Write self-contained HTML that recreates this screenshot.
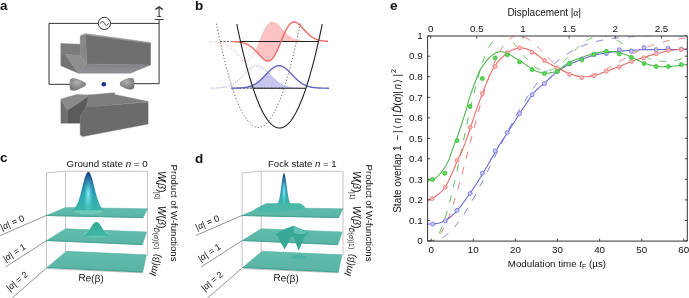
<!DOCTYPE html>
<html><head><meta charset="utf-8"><style>html,body{margin:0;padding:0;background:#fff;width:689px;height:298px;overflow:hidden}svg{display:block;will-change:transform}</style></head><body>
<svg width="689" height="298" viewBox="0 0 689 298">
<text x="0.0" y="9.8" font-family='"Liberation Sans", sans-serif' font-size="13.5" font-weight="bold" fill="#111">a</text>
<text x="195.0" y="9.6" font-family='"Liberation Sans", sans-serif' font-size="13.5" font-weight="bold" fill="#111">b</text>
<text x="390.0" y="9.5" font-family='"Liberation Sans", sans-serif' font-size="13.5" font-weight="bold" fill="#111">e</text>
<text x="0.0" y="162.3" font-family='"Liberation Sans", sans-serif' font-size="13.5" font-weight="bold" fill="#111">c</text>
<text x="195.0" y="162.6" font-family='"Liberation Sans", sans-serif' font-size="13.5" font-weight="bold" fill="#111">d</text>
<defs><linearGradient id="aBot" x1="0" y1="0" x2="0" y2="1"><stop offset="0" stop-color="#828288"/><stop offset="1" stop-color="#919197"/></linearGradient><radialGradient id="cone" cx="0.45" cy="0.35" r="0.7"><stop offset="0" stop-color="#b0b0b0"/><stop offset="1" stop-color="#6e6e6e"/></radialGradient></defs>
<path d="M70,84.3 H49 V23.4 H159.1 V83.7 H134" fill="none" stroke="#333" stroke-width="1"/>
<circle cx="104.4" cy="23.4" r="6.1" fill="#fff" stroke="#333" stroke-width="1"/>
<path d="M100.3,23.6 C101.4,20.6 103.2,20.8 104.4,23.4 C105.6,26.0 107.4,26.2 108.5,23.2" fill="none" stroke="#333" stroke-width="0.9"/>
<path d="M154.7,19.5 H163.7 M157.3,16.5 H160.9 M159.1,23.4 V19.5 M159.1,16.5 V8" fill="none" stroke="#3a3a3a" stroke-width="1.05"/><path d="M154.8,9.0 L159.1,5.9 L163.4,9.0 L162.4,9.9 L159.1,8.0 L155.8,9.9 Z" fill="#3a3a3a"/>
<polygon points="85.5,34.3 150.6,43.1 150.6,64.9 86.9,64.0" fill="#6e6e6e" stroke="#6e6e6e" stroke-width="0.4" stroke-linejoin="round" />
<polygon points="80.2,36.0 85.5,34.3 86.9,64.0 80.2,55.8" fill="#878787" stroke="#878787" stroke-width="0.4" stroke-linejoin="round" />
<polygon points="80.2,36.0 85.5,33.6 150.6,42.4 150.6,43.4 85.5,34.8" fill="#9a9a9a" stroke="#9a9a9a" stroke-width="0.4" stroke-linejoin="round" />
<polygon points="60.8,43.4 80.2,44.2 80.2,55.8 64.9,54.3 60.8,55.0" fill="#7c7c7c" stroke="#7c7c7c" stroke-width="0.4" stroke-linejoin="round" />
<polygon points="60.8,55.0 64.9,54.3 78.5,73.3 60.8,65.7" fill="#747474" stroke="#747474" stroke-width="0.4" stroke-linejoin="round" />
<polygon points="64.9,54.3 80.2,55.8 86.9,64.0 82.0,69.0 78.5,73.3" fill="#8e8e8e" stroke="#8e8e8e" stroke-width="0.4" stroke-linejoin="round" />
<polygon points="86.9,64.0 150.6,64.9 130.5,73.3 78.5,73.3 82.0,69.0" fill="url(#aBot)" stroke="#86868c" stroke-width="0.4" stroke-linejoin="round" />
<polygon points="60.9,99.2 67.6,110.6 67.6,123.2 60.9,123.2" fill="#6f6f6f" stroke="#6f6f6f" stroke-width="0.4" stroke-linejoin="round" />
<polygon points="60.9,98.9 76.8,94.4 90.2,95.0 67.6,110.6" fill="#8a8a8a" stroke="#8a8a8a" stroke-width="0.4" stroke-linejoin="round" />
<polygon points="67.6,110.6 90.2,95.3 86.0,107.3 80.2,116.5 80.2,123.2 67.6,123.2" fill="#5b5b5b" stroke="#5b5b5b" stroke-width="0.4" stroke-linejoin="round" />
<polygon points="88.5,95.0 114.5,92.7 114.5,94.4 148.1,101.4 86.0,107.3" fill="#7e7e7e" stroke="#7e7e7e" stroke-width="0.4" stroke-linejoin="round" />
<polygon points="86.0,107.3 148.1,101.9 148.1,124.1 82.7,136.6 80.2,135.0 80.2,116.5" fill="#6b6b6b" stroke="#6b6b6b" stroke-width="0.4" stroke-linejoin="round" />
<path d="M70.2,79.4 C71.5,77.6 75,77.8 79,79.6 C83,81.4 86,82.6 86,84.3 C86,86 83,87.4 79,89.2 C75,91 71.5,91.1 70.2,89.4 C69.3,86.5 69.3,82.2 70.2,79.4 Z" fill="url(#cone)"/>
<path d="M133.8,79.0 C132.5,77.4 129,77.6 125,79.2 C121,80.8 119.8,82.2 119.8,83.8 C119.8,85.4 121,86.8 125,88.2 C129,89.8 132.5,89.8 133.8,88.3 C134.7,85.6 134.7,81.6 133.8,79.0 Z" fill="url(#cone)"/>
<circle cx="103.8" cy="84.3" r="2.3" fill="#24308a"/>
<path d="M216.30,23.50 L217.14,27.62 L217.98,31.65 L218.82,35.61 L219.66,39.47 L220.50,43.26 L221.34,46.96 L222.18,50.58 L223.02,54.12 L223.86,57.57 L224.70,60.94 L225.54,64.23 L226.38,67.43 L227.22,70.55 L228.06,73.59 L228.90,76.54 L229.74,79.41 L230.58,82.20 L231.42,84.90 L232.26,87.52 L233.10,90.06 L233.94,92.51 L234.78,94.89 L235.62,97.17 L236.46,99.38 L237.30,101.50 L238.14,103.54 L238.98,105.49 L239.82,107.37 L240.66,109.15 L241.50,110.86 L242.34,112.48 L243.18,114.02 L244.02,115.48 L244.86,116.85 L245.70,118.14 L246.54,119.35 L247.38,120.47 L248.22,121.51 L249.06,122.47 L249.90,123.34 L250.74,124.13 L251.58,124.84 L252.42,125.46 L253.26,126.00 L254.10,126.46 L254.94,126.83 L255.78,127.13 L256.62,127.33 L257.46,127.46 L258.30,127.50 L259.14,127.46 L259.98,127.33 L260.82,127.13 L261.66,126.83 L262.50,126.46 L263.34,126.00 L264.18,125.46 L265.02,124.84 L265.86,124.13 L266.70,123.34 L267.54,122.47 L268.38,121.51 L269.22,120.47 L270.06,119.35 L270.90,118.14 L271.74,116.85 L272.58,115.48 L273.42,114.02 L274.26,112.48 L275.10,110.86 L275.94,109.15 L276.78,107.37 L277.62,105.49 L278.46,103.54 L279.30,101.50 L280.14,99.38 L280.98,97.17 L281.82,94.89 L282.66,92.51 L283.50,90.06 L284.34,87.52 L285.18,84.90 L286.02,82.20 L286.86,79.41 L287.70,76.54 L288.54,73.59 L289.38,70.55 L290.22,67.43 L291.06,64.23 L291.90,60.94 L292.74,57.57 L293.58,54.12 L294.42,50.58 L295.26,46.96 L296.10,43.26 L296.94,39.47 L297.78,35.61 L298.62,31.65 L299.46,27.62 L300.30,23.50" fill="none" stroke="#666" stroke-width="1.0" stroke-dasharray="1.3,1.9"/>
<path d="M252.00,47.46 L252.25,47.66 L252.50,47.87 L252.75,48.09 L253.00,48.31 L253.25,48.53 L253.50,48.76 L253.75,48.99 L254.00,49.23 L254.25,49.46 L254.50,49.71 L254.75,49.95 L255.00,50.20 L255.25,50.45 L255.50,50.71 L255.75,50.40 L256.00,49.85 L256.25,49.29 L256.50,48.72 L256.75,48.15 L257.00,47.57 L257.25,46.98 L257.50,46.39 L257.75,45.79 L258.00,45.19 L258.25,44.58 L258.50,43.97 L258.75,43.35 L259.00,42.74 L259.25,42.12 L259.50,41.50 L259.75,40.88 L260.00,40.26 L260.25,39.65 L260.50,39.03 L260.75,38.42 L261.00,37.81 L261.25,37.21 L261.50,36.61 L261.75,36.02 L262.00,35.43 L262.25,34.85 L262.50,34.28 L262.75,33.71 L263.00,33.15 L263.25,32.60 L263.50,32.07 L263.75,31.54 L264.00,31.02 L264.25,30.51 L264.50,30.02 L264.75,29.53 L265.00,29.06 L265.25,28.60 L265.50,28.16 L265.75,27.73 L266.00,27.31 L266.25,26.91 L266.50,26.52 L266.75,26.15 L267.00,25.80 L267.25,25.45 L267.50,25.13 L267.75,24.82 L268.00,24.52 L268.25,24.25 L268.50,23.99 L268.75,23.74 L269.00,23.51 L269.25,23.30 L269.50,23.10 L269.75,22.92 L270.00,22.76 L270.25,22.61 L270.50,22.48 L270.75,22.37 L271.00,22.27 L271.25,22.19 L271.50,22.12 L271.75,22.07 L272.00,22.03 L272.25,22.01 L272.50,22.00 L272.75,22.01 L273.00,22.03 L273.25,22.06 L273.50,22.11 L273.75,22.17 L274.00,22.25 L274.25,22.34 L274.50,22.44 L274.75,22.55 L275.00,22.67 L275.25,22.80 L275.50,22.95 L275.75,23.10 L276.00,23.26 L276.25,23.44 L276.50,23.62 L276.75,23.81 L277.00,24.01 L277.25,24.22 L277.50,24.43 L277.75,24.65 L278.00,24.88 L278.25,25.11 L278.50,25.35 L278.75,25.59 L279.00,25.84 L279.25,26.10 L279.50,26.35 L279.75,26.61 L280.00,26.88 L280.25,27.14 L280.50,27.41 L280.75,27.68 L281.00,27.96 L281.25,28.23 L281.50,28.51 L281.75,28.78 L282.00,29.06 L282.25,29.33 L282.50,29.61 L282.75,29.88 L283.00,30.16 L283.25,30.43 L283.50,30.70 L283.75,30.97 L284.00,31.24 L284.25,31.51 L284.50,31.77 L284.75,32.03 L285.00,32.29 L285.25,32.55 L285.50,32.80 L285.75,33.05 L286.00,33.29 L286.25,33.54 L286.50,33.77 L286.75,34.01 L287.00,34.24 L287.25,34.47 L287.50,34.69 L287.75,34.91 L288.00,35.13 L288.25,35.34 L288.50,35.54 L288.75,35.74 L289.00,35.94 L289.25,36.14 L289.50,36.32 L289.75,36.51 L290.00,36.69 L290.25,36.86 L290.50,37.04 L290.75,37.20 L291.00,37.36 L291.25,37.52 L291.50,37.67 L291.75,37.82 L292.00,37.97 L292.25,38.11 L292.50,38.25 L292.75,38.38 L293.00,38.51 L293.25,38.63 L293.50,38.75 L293.75,38.87 L294.00,38.98 L294.25,39.09 L294.50,39.19 L294.75,39.29 L295.00,39.39 L295.25,39.48 L295.50,39.58 L295.75,39.66 L296.00,39.75 L296.25,39.83 L296.50,39.91 L296.75,39.98 L297.00,40.05 L297.25,40.12 L297.50,40.19 L297.75,40.25 L298.00,40.31 L298.25,40.37 L298.50,40.43 L298.75,40.48 L299.00,40.53 L299.25,40.58 L299.50,40.63 L299.75,40.68 L300.00,40.72 L300.25,40.76 L300.50,40.80 L300.75,40.84 L301.00,40.87 L301.25,40.91 L301.50,40.94 L301.75,40.97 L302.00,41.00 L302.25,41.03 L302.50,41.05 L302.75,41.08 L303.00,41.10 L303.25,41.12 L303.50,41.15 L303.75,41.17 L304.00,41.19 L304.25,41.20 L304.50,41.22 L304.75,41.24 L305.00,41.25 L305.25,41.27 L305.50,41.28 L305.75,41.30 L306.00,41.31 L306.25,41.32 L306.50,41.33 L306.75,41.34 L307.00,41.35 L307.25,41.36 L307.50,41.37 L307.75,41.38 L308.00,41.39 L308.00,41.50 L307.75,41.50 L307.50,41.50 L307.25,41.50 L307.00,41.50 L306.75,41.50 L306.50,41.50 L306.25,41.50 L306.00,41.50 L305.75,41.50 L305.50,41.50 L305.25,41.50 L305.00,41.50 L304.75,41.50 L304.50,41.50 L304.25,41.50 L304.00,41.50 L303.75,41.50 L303.50,41.50 L303.25,41.50 L303.00,41.50 L302.75,41.50 L302.50,41.50 L302.25,41.50 L302.00,41.50 L301.75,41.50 L301.50,41.50 L301.25,41.50 L301.00,41.50 L300.75,41.50 L300.50,41.50 L300.25,41.50 L300.00,41.50 L299.75,41.50 L299.50,41.50 L299.25,41.50 L299.00,41.50 L298.75,41.50 L298.50,41.50 L298.25,41.50 L298.00,41.50 L297.75,41.50 L297.50,41.50 L297.25,41.50 L297.00,41.50 L296.75,41.50 L296.50,41.50 L296.25,41.50 L296.00,41.50 L295.75,41.50 L295.50,41.50 L295.25,41.50 L295.00,41.50 L294.75,41.50 L294.50,41.50 L294.25,41.50 L294.00,41.50 L293.75,41.50 L293.50,41.50 L293.25,41.50 L293.00,41.50 L292.75,41.50 L292.50,41.50 L292.25,41.50 L292.00,41.50 L291.75,41.50 L291.50,41.50 L291.25,41.50 L291.00,41.50 L290.75,41.50 L290.50,41.50 L290.25,41.50 L290.00,41.50 L289.75,41.50 L289.50,41.50 L289.25,41.50 L289.00,41.50 L288.75,41.50 L288.50,41.50 L288.25,41.50 L288.00,41.50 L287.75,41.50 L287.50,41.50 L287.25,41.50 L287.00,41.50 L286.75,41.50 L286.50,41.50 L286.25,41.50 L286.00,41.50 L285.75,41.50 L285.50,41.50 L285.25,41.50 L285.00,41.50 L284.75,41.50 L284.50,41.50 L284.25,41.50 L284.00,41.50 L283.75,41.50 L283.50,41.50 L283.25,41.50 L283.00,41.50 L282.75,41.50 L282.50,41.50 L282.25,41.50 L282.00,41.50 L281.75,41.50 L281.50,41.50 L281.25,41.50 L281.00,41.50 L280.75,42.12 L280.50,42.74 L280.25,43.35 L280.00,43.97 L279.75,44.58 L279.50,45.19 L279.25,45.79 L279.00,46.39 L278.75,46.98 L278.50,47.57 L278.25,48.15 L278.00,48.72 L277.75,49.29 L277.50,49.85 L277.25,50.40 L277.00,50.93 L276.75,51.46 L276.50,51.98 L276.25,52.49 L276.00,52.98 L275.75,53.47 L275.50,53.94 L275.25,54.40 L275.00,54.84 L274.75,55.27 L274.50,55.69 L274.25,56.09 L274.00,56.48 L273.75,56.85 L273.50,57.20 L273.25,57.55 L273.00,57.87 L272.75,58.18 L272.50,58.48 L272.25,58.75 L272.00,59.01 L271.75,59.26 L271.50,59.49 L271.25,59.70 L271.00,59.90 L270.75,60.08 L270.50,60.24 L270.25,60.39 L270.00,60.52 L269.75,60.63 L269.50,60.73 L269.25,60.81 L269.00,60.88 L268.75,60.93 L268.50,60.97 L268.25,60.99 L268.00,61.00 L267.75,60.99 L267.50,60.97 L267.25,60.94 L267.00,60.89 L266.75,60.83 L266.50,60.75 L266.25,60.66 L266.00,60.56 L265.75,60.45 L265.50,60.33 L265.25,60.20 L265.00,60.05 L264.75,59.90 L264.50,59.74 L264.25,59.56 L264.00,59.38 L263.75,59.19 L263.50,58.99 L263.25,58.78 L263.00,58.57 L262.75,58.35 L262.50,58.12 L262.25,57.89 L262.00,57.65 L261.75,57.41 L261.50,57.16 L261.25,56.90 L261.00,56.65 L260.75,56.39 L260.50,56.12 L260.25,55.86 L260.00,55.59 L259.75,55.32 L259.50,55.04 L259.25,54.77 L259.00,54.49 L258.75,54.22 L258.50,53.94 L258.25,53.67 L258.00,53.39 L257.75,53.12 L257.50,52.84 L257.25,52.57 L257.00,52.30 L256.75,52.03 L256.50,51.76 L256.25,51.49 L256.00,51.23 L255.75,50.97 L255.50,50.71 L255.25,50.45 L255.00,50.20 L254.75,49.95 L254.50,49.71 L254.25,49.46 L254.00,49.23 L253.75,48.99 L253.50,48.76 L253.25,48.53 L253.00,48.31 L252.75,48.09 L252.50,47.87 L252.25,47.66 L252.00,47.46 Z" fill="#fbc3c3" stroke="none"/>
<path d="M231.00,88.20 L231.00,88.18 L231.50,88.17 L232.00,88.17 L232.50,88.16 L233.00,88.16 L233.50,88.15 L234.00,88.14 L234.50,88.14 L235.00,88.13 L235.50,88.12 L236.00,88.11 L236.50,88.09 L237.00,88.08 L237.50,88.06 L238.00,88.04 L238.50,88.02 L239.00,88.00 L239.50,87.98 L240.00,87.95 L240.50,87.92 L241.00,87.89 L241.50,87.85 L242.00,87.81 L242.50,87.76 L243.00,87.71 L243.50,87.66 L244.00,87.60 L244.50,87.53 L245.00,87.46 L245.50,87.39 L246.00,87.30 L246.50,87.21 L247.00,87.11 L247.50,87.01 L248.00,86.89 L248.50,86.76 L249.00,86.63 L249.50,86.49 L250.00,86.33 L250.50,86.17 L251.00,85.99 L251.50,85.80 L252.00,85.60 L252.50,85.38 L253.00,85.15 L253.50,84.91 L254.00,84.66 L254.50,84.39 L255.00,84.11 L255.50,83.81 L256.00,83.50 L256.50,83.17 L257.00,82.83 L257.50,82.47 L258.00,82.10 L258.50,81.71 L259.00,81.31 L259.50,80.90 L260.00,80.47 L260.50,80.03 L261.00,79.57 L261.50,79.11 L262.00,78.63 L262.50,78.15 L263.00,77.65 L263.50,77.15 L264.00,76.64 L264.50,76.12 L265.00,75.60 L265.50,75.08 L266.00,74.55 L266.50,74.03 L267.00,73.51 L267.50,72.99 L268.00,72.47 L268.50,72.99 L269.00,73.51 L269.50,74.03 L270.00,74.55 L270.50,75.08 L271.00,75.60 L271.50,76.12 L272.00,76.64 L272.50,77.15 L273.00,77.65 L273.50,78.15 L274.00,78.63 L274.50,79.11 L275.00,79.57 L275.50,80.03 L276.00,80.47 L276.50,80.90 L277.00,81.31 L277.50,81.71 L278.00,82.10 L278.50,82.47 L279.00,82.83 L279.50,83.17 L280.00,83.50 L280.50,83.81 L281.00,84.11 L281.50,84.39 L282.00,84.66 L282.50,84.91 L283.00,85.15 L283.50,85.38 L284.00,85.60 L284.50,85.80 L285.00,85.99 L285.50,86.17 L286.00,86.33 L286.50,86.49 L287.00,86.63 L287.50,86.76 L288.00,86.89 L288.50,87.01 L289.00,87.11 L289.50,87.21 L290.00,87.30 L290.50,87.39 L291.00,87.46 L291.50,87.53 L292.00,87.60 L292.50,87.66 L293.00,87.71 L293.50,87.76 L294.00,87.81 L294.50,87.85 L295.00,87.89 L295.50,87.92 L296.00,87.95 L296.50,87.98 L297.00,88.00 L297.50,88.02 L298.00,88.04 L298.50,88.06 L299.00,88.08 L299.50,88.09 L300.00,88.11 L300.50,88.12 L301.00,88.13 L301.50,88.14 L302.00,88.14 L302.50,88.15 L303.00,88.16 L303.50,88.16 L304.00,88.17 L304.50,88.17 L305.00,88.18 L305.00,88.20 Z" fill="#c6c6ee" stroke="none"/>
<path d="M220.1,41.5 H296.5" stroke="#555" stroke-width="1" stroke-dasharray="2,1.5"/>
<path d="M232.5,88.2 H284.1" stroke="#555" stroke-width="1" stroke-dasharray="2,1.5"/>
<path d="M210.00,41.59 L210.50,41.60 L211.00,41.61 L211.50,41.63 L212.00,41.65 L212.50,41.67 L213.00,41.69 L213.50,41.72 L214.00,41.75 L214.50,41.78 L215.00,41.81 L215.50,41.85 L216.00,41.90 L216.50,41.95 L217.00,42.00 L217.50,42.06 L218.00,42.13 L218.50,42.20 L219.00,42.28 L219.50,42.37 L220.00,42.47 L220.50,42.57 L221.00,42.69 L221.50,42.81 L222.00,42.95 L222.50,43.09 L223.00,43.25 L223.50,43.42 L224.00,43.61 L224.50,43.81 L225.00,44.02 L225.50,44.25 L226.00,44.49 L226.50,44.75 L227.00,45.03 L227.50,45.33 L228.00,45.64 L228.50,45.96 L229.00,46.31 L229.50,46.68 L230.00,47.06 L230.50,47.46 L231.00,47.87 L231.50,48.31 L232.00,48.76 L232.50,49.23 L233.00,49.71 L233.50,50.20 L234.00,50.71 L234.50,51.23 L235.00,51.76 L235.50,52.30 L236.00,52.84 L236.50,53.39 L237.00,53.94 L237.50,54.49 L238.00,55.04 L238.50,55.59 L239.00,56.12 L239.50,56.65 L240.00,57.16 L240.50,57.65 L241.00,58.12 L241.50,58.57 L242.00,58.99 L242.50,59.38 L243.00,59.74 L243.50,60.05 L244.00,60.33 L244.50,60.56 L245.00,60.75 L245.50,60.89 L246.00,60.97 L246.50,61.00 L247.00,60.97 L247.50,60.88 L248.00,60.73 L248.50,60.52 L249.00,60.24 L249.50,59.90 L250.00,59.49 L250.50,59.01 L251.00,58.48 L251.50,57.87 L252.00,57.20 L252.50,56.48 L253.00,55.69 L253.50,54.84 L254.00,53.94 L254.50,52.98 L255.00,51.98 L255.50,50.93 L256.00,49.85 L256.50,48.72 L257.00,47.57 L257.50,46.39 L258.00,45.19 L258.50,43.97 L259.00,42.74 L259.50,41.50 L260.00,40.26 L260.50,39.03 L261.00,37.81 L261.50,36.61 L262.00,35.43 L262.50,34.28 L263.00,33.15 L263.50,32.07 L264.00,31.02 L264.50,30.02 L265.00,29.06 L265.50,28.16 L266.00,27.31 L266.50,26.52 L267.00,25.80 L267.50,25.13 L268.00,24.52 L268.50,23.99 L269.00,23.51 L269.50,23.10 L270.00,22.76 L270.50,22.48 L271.00,22.27 L271.50,22.12 L272.00,22.03 L272.50,22.00 L273.00,22.03 L273.50,22.11 L274.00,22.25 L274.50,22.44 L275.00,22.67 L275.50,22.95 L276.00,23.26 L276.50,23.62 L277.00,24.01 L277.50,24.43 L278.00,24.88 L278.50,25.35 L279.00,25.84 L279.50,26.35 L280.00,26.88 L280.50,27.41 L281.00,27.96 L281.50,28.51 L282.00,29.06 L282.50,29.61 L283.00,30.16 L283.50,30.70 L284.00,31.24 L284.50,31.77 L285.00,32.29 L285.50,32.80 L286.00,33.29 L286.50,33.77 L287.00,34.24 L287.50,34.69 L288.00,35.13 L288.50,35.54 L289.00,35.94 L289.50,36.32 L290.00,36.69 L290.50,37.04 L291.00,37.36 L291.50,37.67 L292.00,37.97 L292.50,38.25 L293.00,38.51 L293.50,38.75 L294.00,38.98 L294.50,39.19 L295.00,39.39 L295.50,39.58 L296.00,39.75 L296.50,39.91 L297.00,40.05 L297.50,40.19 L298.00,40.31 L298.50,40.43 L299.00,40.53 L299.50,40.63 L300.00,40.72 L300.50,40.80 L301.00,40.87 L301.50,40.94 L302.00,41.00 L302.50,41.05 L303.00,41.10 L303.50,41.15 L304.00,41.19 L304.50,41.22 L305.00,41.25 L305.50,41.28 L306.00,41.31 L306.50,41.33 L307.00,41.35" fill="none" stroke="#f0a4a4" stroke-width="1" stroke-dasharray="1.2,1.3"/>
<path d="M211.00,88.16 L211.50,88.15 L212.00,88.14 L212.50,88.14 L213.00,88.13 L213.50,88.12 L214.00,88.11 L214.50,88.09 L215.00,88.08 L215.50,88.06 L216.00,88.04 L216.50,88.02 L217.00,88.00 L217.50,87.98 L218.00,87.95 L218.50,87.92 L219.00,87.89 L219.50,87.85 L220.00,87.81 L220.50,87.76 L221.00,87.71 L221.50,87.66 L222.00,87.60 L222.50,87.53 L223.00,87.46 L223.50,87.39 L224.00,87.30 L224.50,87.21 L225.00,87.11 L225.50,87.01 L226.00,86.89 L226.50,86.76 L227.00,86.63 L227.50,86.49 L228.00,86.33 L228.50,86.17 L229.00,85.99 L229.50,85.80 L230.00,85.60 L230.50,85.38 L231.00,85.15 L231.50,84.91 L232.00,84.66 L232.50,84.39 L233.00,84.11 L233.50,83.81 L234.00,83.50 L234.50,83.17 L235.00,82.83 L235.50,82.47 L236.00,82.10 L236.50,81.71 L237.00,81.31 L237.50,80.90 L238.00,80.47 L238.50,80.03 L239.00,79.57 L239.50,79.11 L240.00,78.63 L240.50,78.15 L241.00,77.65 L241.50,77.15 L242.00,76.64 L242.50,76.12 L243.00,75.60 L243.50,75.08 L244.00,74.55 L244.50,74.03 L245.00,73.51 L245.50,72.99 L246.00,72.47 L246.50,71.96 L247.00,71.46 L247.50,70.97 L248.00,70.49 L248.50,70.03 L249.00,69.58 L249.50,69.15 L250.00,68.74 L250.50,68.34 L251.00,67.97 L251.50,67.63 L252.00,67.30 L252.50,67.01 L253.00,66.74 L253.50,66.50 L254.00,66.29 L254.50,66.11 L255.00,65.96 L255.50,65.85 L256.00,65.77 L256.50,65.72 L257.00,65.70 L257.50,65.72 L258.00,65.77 L258.50,65.85 L259.00,65.96 L259.50,66.11 L260.00,66.29 L260.50,66.50 L261.00,66.74 L261.50,67.01 L262.00,67.30 L262.50,67.63 L263.00,67.97 L263.50,68.34 L264.00,68.74 L264.50,69.15 L265.00,69.58 L265.50,70.03 L266.00,70.49 L266.50,70.97 L267.00,71.46 L267.50,71.96 L268.00,72.47 L268.50,72.99 L269.00,73.51 L269.50,74.03 L270.00,74.55 L270.50,75.08 L271.00,75.60 L271.50,76.12 L272.00,76.64 L272.50,77.15 L273.00,77.65 L273.50,78.15 L274.00,78.63 L274.50,79.11 L275.00,79.57 L275.50,80.03 L276.00,80.47 L276.50,80.90 L277.00,81.31 L277.50,81.71 L278.00,82.10 L278.50,82.47 L279.00,82.83 L279.50,83.17 L280.00,83.50 L280.50,83.81 L281.00,84.11 L281.50,84.39 L282.00,84.66 L282.50,84.91 L283.00,85.15 L283.50,85.38 L284.00,85.60 L284.50,85.80 L285.00,85.99 L285.50,86.17 L286.00,86.33 L286.50,86.49 L287.00,86.63 L287.50,86.76 L288.00,86.89 L288.50,87.01 L289.00,87.11 L289.50,87.21 L290.00,87.30 L290.50,87.39 L291.00,87.46 L291.50,87.53 L292.00,87.60 L292.50,87.66 L293.00,87.71 L293.50,87.76 L294.00,87.81 L294.50,87.85 L295.00,87.89 L295.50,87.92 L296.00,87.95 L296.50,87.98 L297.00,88.00 L297.50,88.02 L298.00,88.04 L298.50,88.06 L299.00,88.08 L299.50,88.09 L300.00,88.11 L300.50,88.12 L301.00,88.13 L301.50,88.14 L302.00,88.14 L302.50,88.15 L303.00,88.16 L303.50,88.16 L304.00,88.17 L304.50,88.17 L305.00,88.18" fill="none" stroke="#8e8ed8" stroke-width="1" stroke-dasharray="1.2,1.3"/>
<path d="M240.5,41.5 H318.5" stroke="#222" stroke-width="1.1"/>
<path d="M253.1,88.2 H305.9" stroke="#222" stroke-width="1.1"/>
<path d="M231.00,41.58 L231.50,41.59 L232.00,41.60 L232.50,41.61 L233.00,41.63 L233.50,41.65 L234.00,41.67 L234.50,41.69 L235.00,41.72 L235.50,41.75 L236.00,41.78 L236.50,41.81 L237.00,41.85 L237.50,41.90 L238.00,41.95 L238.50,42.00 L239.00,42.06 L239.50,42.13 L240.00,42.20 L240.50,42.28 L241.00,42.37 L241.50,42.47 L242.00,42.57 L242.50,42.69 L243.00,42.81 L243.50,42.95 L244.00,43.09 L244.50,43.25 L245.00,43.42 L245.50,43.61 L246.00,43.81 L246.50,44.02 L247.00,44.25 L247.50,44.49 L248.00,44.75 L248.50,45.03 L249.00,45.33 L249.50,45.64 L250.00,45.96 L250.50,46.31 L251.00,46.68 L251.50,47.06 L252.00,47.46 L252.50,47.87 L253.00,48.31 L253.50,48.76 L254.00,49.23 L254.50,49.71 L255.00,50.20 L255.50,50.71 L256.00,51.23 L256.50,51.76 L257.00,52.30 L257.50,52.84 L258.00,53.39 L258.50,53.94 L259.00,54.49 L259.50,55.04 L260.00,55.59 L260.50,56.12 L261.00,56.65 L261.50,57.16 L262.00,57.65 L262.50,58.12 L263.00,58.57 L263.50,58.99 L264.00,59.38 L264.50,59.74 L265.00,60.05 L265.50,60.33 L266.00,60.56 L266.50,60.75 L267.00,60.89 L267.50,60.97 L268.00,61.00 L268.50,60.97 L269.00,60.88 L269.50,60.73 L270.00,60.52 L270.50,60.24 L271.00,59.90 L271.50,59.49 L272.00,59.01 L272.50,58.48 L273.00,57.87 L273.50,57.20 L274.00,56.48 L274.50,55.69 L275.00,54.84 L275.50,53.94 L276.00,52.98 L276.50,51.98 L277.00,50.93 L277.50,49.85 L278.00,48.72 L278.50,47.57 L279.00,46.39 L279.50,45.19 L280.00,43.97 L280.50,42.74 L281.00,41.50 L281.50,40.26 L282.00,39.03 L282.50,37.81 L283.00,36.61 L283.50,35.43 L284.00,34.28 L284.50,33.15 L285.00,32.07 L285.50,31.02 L286.00,30.02 L286.50,29.06 L287.00,28.16 L287.50,27.31 L288.00,26.52 L288.50,25.80 L289.00,25.13 L289.50,24.52 L290.00,23.99 L290.50,23.51 L291.00,23.10 L291.50,22.76 L292.00,22.48 L292.50,22.27 L293.00,22.12 L293.50,22.03 L294.00,22.00 L294.50,22.03 L295.00,22.11 L295.50,22.25 L296.00,22.44 L296.50,22.67 L297.00,22.95 L297.50,23.26 L298.00,23.62 L298.50,24.01 L299.00,24.43 L299.50,24.88 L300.00,25.35 L300.50,25.84 L301.00,26.35 L301.50,26.88 L302.00,27.41 L302.50,27.96 L303.00,28.51 L303.50,29.06 L304.00,29.61 L304.50,30.16 L305.00,30.70 L305.50,31.24 L306.00,31.77 L306.50,32.29 L307.00,32.80 L307.50,33.29 L308.00,33.77 L308.50,34.24 L309.00,34.69 L309.50,35.13 L310.00,35.54 L310.50,35.94 L311.00,36.32 L311.50,36.69 L312.00,37.04 L312.50,37.36 L313.00,37.67 L313.50,37.97 L314.00,38.25 L314.50,38.51 L315.00,38.75 L315.50,38.98 L316.00,39.19 L316.50,39.39 L317.00,39.58 L317.50,39.75 L318.00,39.91 L318.50,40.05 L319.00,40.19 L319.50,40.31 L320.00,40.43 L320.50,40.53 L321.00,40.63 L321.50,40.72 L322.00,40.80 L322.50,40.87 L323.00,40.94 L323.50,41.00 L324.00,41.05 L324.50,41.10 L325.00,41.15 L325.50,41.19 L326.00,41.22 L326.50,41.25 L327.00,41.28 L327.50,41.31 L328.00,41.33" fill="none" stroke="#ea6c66" stroke-width="1.4"/>
<path d="M231.00,88.18 L231.50,88.17 L232.00,88.17 L232.50,88.16 L233.00,88.16 L233.50,88.15 L234.00,88.14 L234.50,88.14 L235.00,88.13 L235.50,88.12 L236.00,88.11 L236.50,88.09 L237.00,88.08 L237.50,88.06 L238.00,88.04 L238.50,88.02 L239.00,88.00 L239.50,87.98 L240.00,87.95 L240.50,87.92 L241.00,87.89 L241.50,87.85 L242.00,87.81 L242.50,87.76 L243.00,87.71 L243.50,87.66 L244.00,87.60 L244.50,87.53 L245.00,87.46 L245.50,87.39 L246.00,87.30 L246.50,87.21 L247.00,87.11 L247.50,87.01 L248.00,86.89 L248.50,86.76 L249.00,86.63 L249.50,86.49 L250.00,86.33 L250.50,86.17 L251.00,85.99 L251.50,85.80 L252.00,85.60 L252.50,85.38 L253.00,85.15 L253.50,84.91 L254.00,84.66 L254.50,84.39 L255.00,84.11 L255.50,83.81 L256.00,83.50 L256.50,83.17 L257.00,82.83 L257.50,82.47 L258.00,82.10 L258.50,81.71 L259.00,81.31 L259.50,80.90 L260.00,80.47 L260.50,80.03 L261.00,79.57 L261.50,79.11 L262.00,78.63 L262.50,78.15 L263.00,77.65 L263.50,77.15 L264.00,76.64 L264.50,76.12 L265.00,75.60 L265.50,75.08 L266.00,74.55 L266.50,74.03 L267.00,73.51 L267.50,72.99 L268.00,72.47 L268.50,71.96 L269.00,71.46 L269.50,70.97 L270.00,70.49 L270.50,70.03 L271.00,69.58 L271.50,69.15 L272.00,68.74 L272.50,68.34 L273.00,67.97 L273.50,67.63 L274.00,67.30 L274.50,67.01 L275.00,66.74 L275.50,66.50 L276.00,66.29 L276.50,66.11 L277.00,65.96 L277.50,65.85 L278.00,65.77 L278.50,65.72 L279.00,65.70 L279.50,65.72 L280.00,65.77 L280.50,65.85 L281.00,65.96 L281.50,66.11 L282.00,66.29 L282.50,66.50 L283.00,66.74 L283.50,67.01 L284.00,67.30 L284.50,67.63 L285.00,67.97 L285.50,68.34 L286.00,68.74 L286.50,69.15 L287.00,69.58 L287.50,70.03 L288.00,70.49 L288.50,70.97 L289.00,71.46 L289.50,71.96 L290.00,72.47 L290.50,72.99 L291.00,73.51 L291.50,74.03 L292.00,74.55 L292.50,75.08 L293.00,75.60 L293.50,76.12 L294.00,76.64 L294.50,77.15 L295.00,77.65 L295.50,78.15 L296.00,78.63 L296.50,79.11 L297.00,79.57 L297.50,80.03 L298.00,80.47 L298.50,80.90 L299.00,81.31 L299.50,81.71 L300.00,82.10 L300.50,82.47 L301.00,82.83 L301.50,83.17 L302.00,83.50 L302.50,83.81 L303.00,84.11 L303.50,84.39 L304.00,84.66 L304.50,84.91 L305.00,85.15 L305.50,85.38 L306.00,85.60 L306.50,85.80 L307.00,85.99 L307.50,86.17 L308.00,86.33 L308.50,86.49 L309.00,86.63 L309.50,86.76 L310.00,86.89 L310.50,87.01 L311.00,87.11 L311.50,87.21 L312.00,87.30 L312.50,87.39 L313.00,87.46 L313.50,87.53 L314.00,87.60 L314.50,87.66 L315.00,87.71 L315.50,87.76 L316.00,87.81 L316.50,87.85 L317.00,87.89 L317.50,87.92 L318.00,87.95 L318.50,87.98 L319.00,88.00 L319.50,88.02 L320.00,88.04 L320.50,88.06 L321.00,88.08 L321.50,88.09 L322.00,88.11 L322.50,88.12 L323.00,88.13 L323.50,88.14 L324.00,88.14 L324.50,88.15 L325.00,88.16 L325.50,88.16 L326.00,88.17 L326.50,88.17 L327.00,88.18 L327.50,88.18 L328.00,88.18 L328.50,88.18 L329.00,88.19" fill="none" stroke="#6464bf" stroke-width="1.4"/>
<path d="M236.80,24.20 L237.65,28.31 L238.51,32.34 L239.36,36.28 L240.22,40.14 L241.07,43.92 L241.92,47.62 L242.78,51.23 L243.63,54.76 L244.49,58.20 L245.34,61.57 L246.19,64.85 L247.05,68.05 L247.90,71.16 L248.76,74.19 L249.61,77.14 L250.46,80.00 L251.32,82.78 L252.17,85.48 L253.03,88.10 L253.88,90.63 L254.73,93.08 L255.59,95.45 L256.44,97.73 L257.30,99.93 L258.15,102.05 L259.00,104.08 L259.86,106.04 L260.71,107.90 L261.57,109.69 L262.42,111.39 L263.27,113.01 L264.13,114.55 L264.98,116.00 L265.84,117.37 L266.69,118.66 L267.54,119.86 L268.40,120.98 L269.25,122.02 L270.11,122.98 L270.96,123.85 L271.81,124.64 L272.67,125.34 L273.52,125.97 L274.38,126.51 L275.23,126.96 L276.08,127.34 L276.94,127.63 L277.79,127.83 L278.65,127.96 L279.50,128.00 L280.35,127.96 L281.21,127.83 L282.06,127.63 L282.92,127.34 L283.77,126.96 L284.62,126.51 L285.48,125.97 L286.33,125.34 L287.19,124.64 L288.04,123.85 L288.89,122.98 L289.75,122.02 L290.60,120.98 L291.46,119.86 L292.31,118.66 L293.16,117.37 L294.02,116.00 L294.87,114.55 L295.73,113.01 L296.58,111.39 L297.43,109.69 L298.29,107.90 L299.14,106.04 L300.00,104.08 L300.85,102.05 L301.70,99.93 L302.56,97.73 L303.41,95.45 L304.27,93.08 L305.12,90.63 L305.97,88.10 L306.83,85.48 L307.68,82.78 L308.54,80.00 L309.39,77.14 L310.24,74.19 L311.10,71.16 L311.95,68.05 L312.81,64.85 L313.66,61.57 L314.51,58.20 L315.37,54.76 L316.22,51.23 L317.08,47.62 L317.93,43.92 L318.78,40.14 L319.64,36.28 L320.49,32.34 L321.35,28.31 L322.20,24.20" fill="none" stroke="#222" stroke-width="1.1"/>
<defs><linearGradient id="pkV" x1="0" y1="0" x2="0" y2="1"><stop offset="0" stop-color="#183c7c"/><stop offset="0.2" stop-color="#1d5a94"/><stop offset="0.45" stop-color="#2790b0"/><stop offset="0.75" stop-color="#33abaf"/><stop offset="1" stop-color="#3fb5a8"/></linearGradient><radialGradient id="pkH" cx="0.5" cy="0.58" r="0.5" gradientTransform="translate(0.5,0.58) scale(0.32,1.1) translate(-0.5,-0.58)"><stop offset="0" stop-color="#9ff" stop-opacity="0.85"/><stop offset="0.55" stop-color="#7ee" stop-opacity="0.3"/><stop offset="1" stop-color="#6de" stop-opacity="0"/></radialGradient><linearGradient id="plane" x1="0" y1="0" x2="0" y2="1"><stop offset="0" stop-color="#68c3b2"/><stop offset="1" stop-color="#5eb8a8"/></linearGradient><pattern id="mesh" width="1.6" height="1.6" patternUnits="userSpaceOnUse"><rect width="1.6" height="1.6" fill="none"/><path d="M0,0.8 H1.6 M0.8,0 V1.6" stroke="#3a9a8a" stroke-width="0.25" opacity="0.5"/></pattern><linearGradient id="bump" x1="0" y1="0" x2="0" y2="1"><stop offset="0" stop-color="#2aa896"/><stop offset="1" stop-color="#46b8a6"/></linearGradient></defs>
<path d="M46.5,172.9 V268 M65.6,171.1 V252 M147.4,171.4 V255.5 M46.5,172.9 L65.6,171.1 L147.4,171.4 M47.1,268.6 L142.8,272.8" fill="none" stroke="#b4b4b4" stroke-width="0.8"/>
<path d="M0.0,235.6 L46.3,215.5 M5.5,267 L46.7,240.5 M11.5,298.5 L47.1,267.5" fill="none" stroke="#666" stroke-width="0.7"/>
<polygon points="46.3,215.5 65.6,207.4 147.4,208.8 143.2,217.6" fill="url(#plane)" stroke="#4fae9e" stroke-width="0.5"/>
<polygon points="46.3,215.5 65.6,207.4 147.4,208.8 143.2,217.6" fill="url(#mesh)" />
<path d="M46.3,215.5 L143.2,217.6" stroke="#3f9d8e" stroke-width="0.9"/>
<polygon points="46.7,240.5 65.6,228.7 146.6,232.0 142.4,244.6" fill="url(#plane)" stroke="#4fae9e" stroke-width="0.5"/>
<polygon points="46.7,240.5 65.6,228.7 146.6,232.0 142.4,244.6" fill="url(#mesh)" />
<path d="M46.7,240.5 L142.4,244.6" stroke="#3f9d8e" stroke-width="0.9"/>
<polygon points="47.1,267.5 66.4,251.3 146.4,254.8 142.8,272.0" fill="url(#plane)" stroke="#4fae9e" stroke-width="0.5"/>
<polygon points="47.1,267.5 66.4,251.3 146.4,254.8 142.8,272.0" fill="url(#mesh)" />
<path d="M47.1,267.5 L142.8,272.0" stroke="#3f9d8e" stroke-width="0.9"/>
<ellipse cx="88.3" cy="211.5" rx="14" ry="3.0" fill="#6ccaba"/>
<path d="M71.30,210.29 L71.87,210.08 L72.43,209.81 L73.00,209.48 L73.57,209.08 L74.13,208.59 L74.70,208.00 L75.27,207.30 L75.83,206.47 L76.40,205.52 L76.97,204.42 L77.53,203.16 L78.10,201.76 L78.67,200.20 L79.23,198.48 L79.80,196.63 L80.37,194.64 L80.93,192.55 L81.50,190.38 L82.07,188.15 L82.63,185.90 L83.20,183.69 L83.77,181.53 L84.33,179.50 L84.90,177.61 L85.47,175.94 L86.03,174.50 L86.60,173.34 L87.17,172.49 L87.73,171.97 L88.30,171.80 L88.87,171.97 L89.43,172.49 L90.00,173.34 L90.57,174.50 L91.13,175.94 L91.70,177.61 L92.27,179.50 L92.83,181.53 L93.40,183.69 L93.97,185.90 L94.53,188.15 L95.10,190.38 L95.67,192.55 L96.23,194.64 L96.80,196.63 L97.37,198.48 L97.93,200.20 L98.50,201.76 L99.07,203.16 L99.63,204.42 L100.20,205.52 L100.77,206.47 L101.33,207.30 L101.90,208.00 L102.47,208.59 L103.03,209.08 L103.60,209.48 L104.17,209.81 L104.73,210.08 L105.30,210.29 Z" fill="url(#pkV)"/>
<path d="M71.30,210.29 L71.87,210.08 L72.43,209.81 L73.00,209.48 L73.57,209.08 L74.13,208.59 L74.70,208.00 L75.27,207.30 L75.83,206.47 L76.40,205.52 L76.97,204.42 L77.53,203.16 L78.10,201.76 L78.67,200.20 L79.23,198.48 L79.80,196.63 L80.37,194.64 L80.93,192.55 L81.50,190.38 L82.07,188.15 L82.63,185.90 L83.20,183.69 L83.77,181.53 L84.33,179.50 L84.90,177.61 L85.47,175.94 L86.03,174.50 L86.60,173.34 L87.17,172.49 L87.73,171.97 L88.30,171.80 L88.87,171.97 L89.43,172.49 L90.00,173.34 L90.57,174.50 L91.13,175.94 L91.70,177.61 L92.27,179.50 L92.83,181.53 L93.40,183.69 L93.97,185.90 L94.53,188.15 L95.10,190.38 L95.67,192.55 L96.23,194.64 L96.80,196.63 L97.37,198.48 L97.93,200.20 L98.50,201.76 L99.07,203.16 L99.63,204.42 L100.20,205.52 L100.77,206.47 L101.33,207.30 L101.90,208.00 L102.47,208.59 L103.03,209.08 L103.60,209.48 L104.17,209.81 L104.73,210.08 L105.30,210.29 Z" fill="url(#pkH)"/>
<ellipse cx="96.4" cy="234.2" rx="13" ry="3.3" fill="#6cc9ba"/>
<path d="M80.40,236.25 L80.93,236.18 L81.47,236.08 L82.00,235.96 L82.53,235.82 L83.07,235.64 L83.60,235.43 L84.13,235.17 L84.67,234.87 L85.20,234.52 L85.73,234.12 L86.27,233.66 L86.80,233.14 L87.33,232.56 L87.87,231.93 L88.40,231.24 L88.93,230.50 L89.47,229.72 L90.00,228.90 L90.53,228.07 L91.07,227.22 L91.60,226.39 L92.13,225.58 L92.67,224.81 L93.20,224.10 L93.73,223.46 L94.27,222.92 L94.80,222.48 L95.33,222.16 L95.87,221.97 L96.40,221.90 L96.93,221.97 L97.47,222.16 L98.00,222.48 L98.53,222.92 L99.07,223.46 L99.60,224.10 L100.13,224.81 L100.67,225.58 L101.20,226.39 L101.73,227.22 L102.27,228.07 L102.80,228.90 L103.33,229.72 L103.87,230.50 L104.40,231.24 L104.93,231.93 L105.47,232.56 L106.00,233.14 L106.53,233.66 L107.07,234.12 L107.60,234.52 L108.13,234.87 L108.67,235.17 L109.20,235.43 L109.73,235.64 L110.27,235.82 L110.80,235.96 L111.33,236.08 L111.87,236.18 L112.40,236.25 Z" fill="url(#bump)"/>
<path d="M242.1,172.9 V268 M261.2,171.1 V252 M343.0,171.4 V255.5 M242.1,172.9 L261.2,171.1 L343.0,171.4 M242.7,268.6 L338.4,272.8" fill="none" stroke="#b4b4b4" stroke-width="0.8"/>
<path d="M195.6,235.6 L241.9,215.5 M201.1,267 L242.3,240.5 M207.1,298.5 L242.7,267.5" fill="none" stroke="#666" stroke-width="0.7"/>
<polygon points="241.9,215.5 261.2,207.4 343.0,208.8 338.8,217.6" fill="url(#plane)" stroke="#4fae9e" stroke-width="0.5"/>
<polygon points="241.9,215.5 261.2,207.4 343.0,208.8 338.8,217.6" fill="url(#mesh)" />
<path d="M241.9,215.5 L338.8,217.6" stroke="#3f9d8e" stroke-width="0.9"/>
<polygon points="242.3,240.5 261.2,228.7 342.2,232.0 338.0,244.6" fill="url(#plane)" stroke="#4fae9e" stroke-width="0.5"/>
<polygon points="242.3,240.5 261.2,228.7 342.2,232.0 338.0,244.6" fill="url(#mesh)" />
<path d="M242.3,240.5 L338.0,244.6" stroke="#3f9d8e" stroke-width="0.9"/>
<polygon points="242.7,267.5 262.0,251.3 342.0,254.8 338.4,272.0" fill="url(#plane)" stroke="#4fae9e" stroke-width="0.5"/>
<polygon points="242.7,267.5 262.0,251.3 342.0,254.8 338.4,272.0" fill="url(#mesh)" />
<path d="M242.7,267.5 L338.4,272.0" stroke="#3f9d8e" stroke-width="0.9"/>
<path d="M254,209.5 Q262,205 266.5,203.2 L300,203.2 Q304,205.5 306,208.5 Q290,213 262,212 Z" fill="#4db8a8"/>
<path d="M276.00,204.72 L276.27,204.62 L276.53,204.48 L276.80,204.31 L277.07,204.09 L277.33,203.80 L277.60,203.45 L277.87,203.02 L278.13,202.49 L278.40,201.85 L278.67,201.10 L278.93,200.21 L279.20,199.18 L279.47,198.00 L279.73,196.68 L280.00,195.20 L280.27,193.59 L280.53,191.84 L280.80,190.00 L281.07,188.07 L281.33,186.09 L281.60,184.10 L281.87,182.15 L282.13,180.27 L282.40,178.52 L282.67,176.94 L282.93,175.58 L283.20,174.48 L283.47,173.67 L283.73,173.17 L284.00,173.00 L284.27,173.17 L284.53,173.67 L284.80,174.48 L285.07,175.58 L285.33,176.94 L285.60,178.52 L285.87,180.27 L286.13,182.15 L286.40,184.10 L286.67,186.09 L286.93,188.07 L287.20,190.00 L287.47,191.84 L287.73,193.59 L288.00,195.20 L288.27,196.68 L288.53,198.00 L288.80,199.18 L289.07,200.21 L289.33,201.10 L289.60,201.85 L289.87,202.49 L290.13,203.02 L290.40,203.45 L290.67,203.80 L290.93,204.09 L291.20,204.31 L291.47,204.48 L291.73,204.62 L292.00,204.72 Z" fill="url(#pkV)"/>
<path d="M276.00,204.72 L276.27,204.62 L276.53,204.48 L276.80,204.31 L277.07,204.09 L277.33,203.80 L277.60,203.45 L277.87,203.02 L278.13,202.49 L278.40,201.85 L278.67,201.10 L278.93,200.21 L279.20,199.18 L279.47,198.00 L279.73,196.68 L280.00,195.20 L280.27,193.59 L280.53,191.84 L280.80,190.00 L281.07,188.07 L281.33,186.09 L281.60,184.10 L281.87,182.15 L282.13,180.27 L282.40,178.52 L282.67,176.94 L282.93,175.58 L283.20,174.48 L283.47,173.67 L283.73,173.17 L284.00,173.00 L284.27,173.17 L284.53,173.67 L284.80,174.48 L285.07,175.58 L285.33,176.94 L285.60,178.52 L285.87,180.27 L286.13,182.15 L286.40,184.10 L286.67,186.09 L286.93,188.07 L287.20,190.00 L287.47,191.84 L287.73,193.59 L288.00,195.20 L288.27,196.68 L288.53,198.00 L288.80,199.18 L289.07,200.21 L289.33,201.10 L289.60,201.85 L289.87,202.49 L290.13,203.02 L290.40,203.45 L290.67,203.80 L290.93,204.09 L291.20,204.31 L291.47,204.48 L291.73,204.62 L292.00,204.72 Z" fill="url(#pkH)"/>
<path d="M275.7,234.2 Q285,228 293.5,225.7 Q301,228 308.8,233.3 L305,235.9 Q301,246 298.6,250.5 Q296,244 293.5,237.1 L291,237.1 Q288,244 284.6,249.3 Q281,244 277.6,235.9 Z" fill="#3aa897"/>
<path d="M293.5,226.5 Q302,229 307,233.2 Q300,235 294,233 Z" fill="#6fd0c2" opacity="0.7"/>
<path d="M290,258.5 Q296,254 299.2,254.2 Q302.5,254 308,258.5 Z" fill="#49b3a3"/>
<g font-family='"Liberation Sans", sans-serif' font-size="10" fill="#111">
<text x="66.6" y="167.4" font-size="9.75">Ground state <tspan font-style="italic">n</tspan> = 0</text>
<text x="268.0" y="166.9" font-size="9.6">Fock state <tspan font-style="italic">n</tspan> = 1</text>
<text transform="translate(170.8,164.6) rotate(90)" font-size="9.6">Product of W-functions</text>
<text transform="translate(158.4,171.1) rotate(90)" font-size="10.5"><tspan font-style="italic">W</tspan></text>
<text transform="translate(158.4,179.4) rotate(90)" font-size="10.5">(<tspan font-style="italic">β</tspan>)</text>
<text transform="translate(154.6,191.9) rotate(90)" font-size="6.8">|0⟩</text>
<text transform="translate(158.4,205.8) rotate(90)" font-size="10.5"><tspan font-style="italic">W</tspan></text>
<text transform="translate(158.4,215.4) rotate(90)" font-size="10.5">(<tspan font-style="italic">β</tspan>)</text>
<text transform="translate(154.0,227.8) rotate(90)" font-size="6.8"><tspan font-style="italic">D̂</tspan>(<tspan font-style="italic">α</tspan>)|0⟩</text>
<text transform="translate(155.4,276.6) rotate(-77)" font-size="9.6"><tspan font-style="italic">Im</tspan>(β)</text>
<text transform="translate(78.3,280.8) rotate(3)">Re(β)</text>
<text transform="translate(2.0,230.5) rotate(-23.6)" font-size="9">|<tspan font-style="italic">α</tspan>| = 0</text>
<text transform="translate(5.4,261.9) rotate(-32.6)" font-size="9">|<tspan font-style="italic">α</tspan>| = 1</text>
<text transform="translate(9.4,291.6) rotate(-40.0)" font-size="9">|<tspan font-style="italic">α</tspan>| = 2</text>
<text transform="translate(365.8,164.6) rotate(90)" font-size="9.6">Product of W-functions</text>
<text transform="translate(353.4,171.1) rotate(90)" font-size="10.5"><tspan font-style="italic">W</tspan></text>
<text transform="translate(353.4,179.4) rotate(90)" font-size="10.5">(<tspan font-style="italic">β</tspan>)</text>
<text transform="translate(349.6,191.9) rotate(90)" font-size="6.8">|1⟩</text>
<text transform="translate(353.4,205.8) rotate(90)" font-size="10.5"><tspan font-style="italic">W</tspan></text>
<text transform="translate(353.4,215.4) rotate(90)" font-size="10.5">(<tspan font-style="italic">β</tspan>)</text>
<text transform="translate(349.0,227.8) rotate(90)" font-size="6.8"><tspan font-style="italic">D̂</tspan>(<tspan font-style="italic">α</tspan>)|1⟩</text>
<text transform="translate(350.4,276.6) rotate(-77)" font-size="9.6"><tspan font-style="italic">Im</tspan>(β)</text>
<text transform="translate(273.3,280.8) rotate(3)">Re(β)</text>
<text transform="translate(197.0,230.5) rotate(-23.6)" font-size="9">|<tspan font-style="italic">α</tspan>| = 0</text>
<text transform="translate(200.4,261.9) rotate(-32.6)" font-size="9">|<tspan font-style="italic">α</tspan>| = 1</text>
<text transform="translate(204.4,291.6) rotate(-40.0)" font-size="9">|<tspan font-style="italic">α</tspan>| = 2</text>
</g>
<defs><clipPath id="clipE"><rect x="427.6" y="36.0" width="259.7" height="205.1"/></clipPath></defs>
<g clip-path="url(#clipE)" fill="none" stroke-width="1" stroke-dasharray="7.2,8.8" stroke-dashoffset="0.5">
<path d="M427.60,240.90 L428.03,240.90 L428.47,240.90 L428.90,240.90 L429.33,240.90 L429.77,240.90 L430.20,240.90 L430.63,240.90 L431.07,240.90 L431.50,240.90 L431.94,240.89 L432.37,240.87 L432.80,240.85 L433.24,240.81 L433.67,240.76 L434.10,240.70 L434.54,240.63 L434.97,240.56 L435.40,240.47 L435.84,240.37 L436.27,240.26 L436.70,240.14 L437.14,240.01 L437.57,239.88 L438.01,239.73 L438.44,239.57 L438.87,239.40 L439.31,239.22 L439.74,239.03 L440.17,238.84 L440.61,238.63 L441.04,238.41 L441.47,238.18 L441.91,237.95 L442.34,237.70 L442.77,237.44 L443.21,237.18 L443.64,236.90 L444.08,236.61 L444.51,236.32 L444.94,236.02 L445.38,235.70 L445.81,235.38 L446.24,235.05 L446.68,234.70 L447.11,234.35 L447.54,233.99 L447.98,233.62 L448.41,233.25 L448.84,232.86 L449.28,232.46 L449.71,232.06 L450.14,231.64 L450.58,231.22 L451.01,230.79 L451.45,230.35 L451.88,229.90 L452.31,229.44 L452.75,228.98 L453.18,228.50 L453.61,228.02 L454.05,227.53 L454.48,227.03 L454.91,226.52 L455.35,226.01 L455.78,225.49 L456.21,224.96 L456.65,224.42 L457.08,223.87 L457.52,223.32 L457.95,222.75 L458.38,222.18 L458.82,221.61 L459.25,221.02 L459.68,220.43 L460.12,219.83 L460.55,219.23 L460.98,218.61 L461.42,217.99 L461.85,217.37 L462.28,216.73 L462.72,216.09 L463.15,215.45 L463.59,214.79 L464.02,214.13 L464.45,213.47 L464.89,212.80 L465.32,212.12 L465.75,211.43 L466.19,210.74 L466.62,210.05 L467.05,209.34 L467.49,208.63 L467.92,207.92 L468.35,207.20 L468.79,206.48 L469.22,205.75 L469.65,205.01 L470.09,204.27 L470.52,203.53 L470.96,202.78 L471.39,202.02 L471.82,201.26 L472.26,200.50 L472.69,199.73 L473.12,198.95 L473.56,198.18 L473.99,197.39 L474.42,196.61 L474.86,195.82 L475.29,195.02 L475.72,194.22 L476.16,193.42 L476.59,192.62 L477.03,191.81 L477.46,190.99 L477.89,190.18 L478.33,189.36 L478.76,188.53 L479.19,187.71 L479.63,186.88 L480.06,186.05 L480.49,185.21 L480.93,184.37 L481.36,183.53 L481.79,182.69 L482.23,181.85 L482.66,181.00 L483.10,180.15 L483.53,179.30 L483.96,178.44 L484.40,177.59 L484.83,176.73 L485.26,175.87 L485.70,175.01 L486.13,174.15 L486.56,173.29 L487.00,172.42 L487.43,171.55 L487.86,170.69 L488.30,169.82 L488.73,168.95 L489.16,168.08 L489.60,167.21 L490.03,166.33 L490.47,165.46 L490.90,164.59 L491.33,163.71 L491.77,162.84 L492.20,161.97 L492.63,161.09 L493.07,160.22 L493.50,159.34 L493.93,158.47 L494.37,157.59 L494.80,156.72 L495.23,155.85 L495.67,154.97 L496.10,154.10 L496.54,153.23 L496.97,152.36 L497.40,151.48 L497.84,150.61 L498.27,149.75 L498.70,148.88 L499.14,148.01 L499.57,147.14 L500.00,146.28 L500.44,145.42 L500.87,144.55 L501.30,143.69 L501.74,142.83 L502.17,141.98 L502.61,141.12 L503.04,140.27 L503.47,139.41 L503.91,138.56 L504.34,137.71 L504.77,136.87 L505.21,136.02 L505.64,135.18 L506.07,134.34 L506.51,133.50 L506.94,132.67 L507.37,131.83 L507.81,131.00 L508.24,130.18 L508.67,129.35 L509.11,128.53 L509.54,127.71 L509.98,126.89 L510.41,126.07 L510.84,125.26 L511.28,124.45 L511.71,123.65 L512.14,122.84 L512.58,122.04 L513.01,121.25 L513.44,120.45 L513.88,119.66 L514.31,118.88 L514.74,118.09 L515.18,117.31 L515.61,116.54 L516.05,115.76 L516.48,114.99 L516.91,114.22 L517.35,113.46 L517.78,112.70 L518.21,111.95 L518.65,111.19 L519.08,110.45 L519.51,109.70 L519.95,108.96 L520.38,108.22 L520.81,107.49 L521.25,106.76 L521.68,106.04 L522.12,105.31 L522.55,104.60 L522.98,103.88 L523.42,103.17 L523.85,102.47 L524.28,101.77 L524.72,101.07 L525.15,100.38 L525.58,99.69 L526.02,99.01 L526.45,98.33 L526.88,97.65 L527.32,96.98 L527.75,96.31 L528.18,95.65 L528.62,94.99 L529.05,94.33 L529.49,93.68 L529.92,93.04 L530.35,92.40 L530.79,91.76 L531.22,91.13 L531.65,90.50 L532.09,89.88 L532.52,89.26 L532.95,88.64 L533.39,88.03 L533.82,87.43 L534.25,86.83 L534.69,86.23 L535.12,85.64 L535.56,85.05 L535.99,84.47 L536.42,83.89 L536.86,83.31 L537.29,82.74 L537.72,82.18 L538.16,81.62 L538.59,81.06 L539.02,80.51 L539.46,79.96 L539.89,79.42 L540.32,78.88 L540.76,78.35 L541.19,77.82 L541.63,77.30 L542.06,76.78 L542.49,76.26 L542.93,75.75 L543.36,75.24 L543.79,74.74 L544.23,74.24 L544.66,73.75 L545.09,73.26 L545.53,72.78 L545.96,72.30 L546.39,71.82 L546.83,71.35 L547.26,70.88 L547.69,70.42 L548.13,69.96 L548.56,69.51 L549.00,69.06 L549.43,68.62 L549.86,68.18 L550.30,67.74 L550.73,67.31 L551.16,66.88 L551.60,66.46 L552.03,66.04 L552.46,65.62 L552.90,65.21 L553.33,64.81 L553.76,64.41 L554.20,64.01 L554.63,63.61 L555.07,63.22 L555.50,62.84 L555.93,62.46 L556.37,62.08 L556.80,61.71 L557.23,61.34 L557.67,60.97 L558.10,60.61 L558.53,60.25 L558.97,59.90 L559.40,59.55 L559.83,59.20 L560.27,58.86 L560.70,58.52 L561.14,58.19 L561.57,57.86 L562.00,57.53 L562.44,57.21 L562.87,56.89 L563.30,56.57 L563.74,56.26 L564.17,55.95 L564.60,55.65 L565.04,55.35 L565.47,55.05 L565.90,54.76 L566.34,54.47 L566.77,54.18 L567.21,53.90 L567.64,53.62 L568.07,53.34 L568.51,53.07 L568.94,52.80 L569.37,52.53 L569.81,52.27 L570.24,52.01 L570.67,51.75 L571.11,51.50 L571.54,51.25 L571.97,51.00 L572.41,50.76 L572.84,50.52 L573.27,50.28 L573.71,50.05 L574.14,49.82 L574.58,49.59 L575.01,49.37 L575.44,49.14 L575.88,48.92 L576.31,48.71 L576.74,48.49 L577.18,48.28 L577.61,48.08 L578.04,47.87 L578.48,47.67 L578.91,47.47 L579.34,47.27 L579.78,47.08 L580.21,46.89 L580.65,46.70 L581.08,46.52 L581.51,46.33 L581.95,46.15 L582.38,45.97 L582.81,45.80 L583.25,45.63 L583.68,45.46 L584.11,45.29 L584.55,45.12 L584.98,44.96 L585.41,44.80 L585.85,44.64 L586.28,44.48 L586.72,44.33 L587.15,44.18 L587.58,44.03 L588.02,43.88 L588.45,43.74 L588.88,43.59 L589.32,43.45 L589.75,43.32 L590.18,43.18 L590.62,43.04 L591.05,42.91 L591.48,42.78 L591.92,42.65 L592.35,42.53 L592.78,42.40 L593.22,42.28 L593.65,42.16 L594.09,42.04 L594.52,41.93 L594.95,41.81 L595.39,41.70 L595.82,41.59 L596.25,41.48 L596.69,41.37 L597.12,41.26 L597.55,41.16 L597.99,41.06 L598.42,40.96 L598.85,40.86 L599.29,40.76 L599.72,40.66 L600.16,40.57 L600.59,40.48 L601.02,40.39 L601.46,40.30 L601.89,40.21 L602.32,40.12 L602.76,40.04 L603.19,39.95 L603.62,39.87 L604.06,39.79 L604.49,39.71 L604.92,39.63 L605.36,39.55 L605.79,39.48 L606.23,39.40 L606.66,39.33 L607.09,39.26 L607.53,39.19 L607.96,39.12 L608.39,39.05 L608.83,38.98 L609.26,38.92 L609.69,38.85 L610.13,38.79 L610.56,38.73 L610.99,38.67 L611.43,38.61 L611.86,38.55 L612.29,38.49 L612.73,38.43 L613.16,38.38 L613.60,38.32 L614.03,38.27 L614.46,38.21 L614.90,38.16 L615.33,38.11 L615.76,38.06 L616.20,38.01 L616.63,37.96 L617.06,37.92 L617.50,37.87 L617.93,37.82 L618.36,37.78 L618.80,37.74 L619.23,37.69 L619.67,37.65 L620.10,37.61 L620.53,37.57 L620.97,37.53 L621.40,37.49 L621.83,37.45 L622.27,37.41 L622.70,37.38 L623.13,37.34 L623.57,37.30 L624.00,37.27 L624.43,37.24 L624.87,37.20 L625.30,37.17 L625.74,37.14 L626.17,37.11 L626.60,37.08 L627.04,37.04 L627.47,37.02 L627.90,36.99 L628.34,36.96 L628.77,36.93 L629.20,36.90 L629.64,36.88 L630.07,36.85 L630.50,36.82 L630.94,36.80 L631.37,36.77 L631.80,36.75 L632.24,36.73 L632.67,36.70 L633.11,36.68 L633.54,36.66 L633.97,36.64 L634.41,36.61 L634.84,36.59 L635.27,36.57 L635.71,36.55 L636.14,36.53 L636.57,36.51 L637.01,36.50 L637.44,36.48 L637.87,36.46 L638.31,36.44 L638.74,36.42 L639.18,36.41 L639.61,36.39 L640.04,36.37 L640.48,36.36 L640.91,36.34 L641.34,36.33 L641.78,36.31 L642.21,36.30 L642.64,36.28 L643.08,36.27 L643.51,36.26 L643.94,36.24 L644.38,36.23 L644.81,36.22 L645.25,36.21 L645.68,36.19 L646.11,36.18 L646.55,36.17 L646.98,36.16 L647.41,36.15 L647.85,36.14 L648.28,36.13 L648.71,36.11 L649.15,36.10 L649.58,36.09 L650.01,36.09 L650.45,36.08 L650.88,36.07 L651.31,36.06 L651.75,36.05 L652.18,36.04 L652.62,36.03 L653.05,36.02 L653.48,36.02 L653.92,36.01 L654.35,36.00 L654.78,36.00 L655.22,36.00 L655.65,36.00 L656.08,36.00 L656.52,36.00 L656.95,36.00 L657.38,36.00 L657.82,36.00 L658.25,36.00 L658.69,36.00 L659.12,36.00 L659.55,36.00 L659.99,36.00 L660.42,36.00 L660.85,36.00 L661.29,36.00 L661.72,36.00 L662.15,36.00 L662.59,36.00 L663.02,36.00 L663.45,36.00 L663.89,36.00 L664.32,36.00 L664.76,36.00 L665.19,36.00 L665.62,36.00 L666.06,36.00 L666.49,36.00 L666.92,36.00 L667.36,36.00 L667.79,36.00 L668.22,36.00 L668.66,36.00 L669.09,36.00 L669.52,36.00 L669.96,36.00 L670.39,36.00 L670.82,36.00 L671.26,36.00 L671.69,36.00 L672.13,36.00 L672.56,36.00 L672.99,36.00 L673.43,36.00 L673.86,36.00 L674.29,36.00 L674.73,36.00 L675.16,36.00 L675.59,36.00 L676.03,36.00 L676.46,36.00 L676.89,36.00 L677.33,36.00 L677.76,36.00 L678.20,36.00 L678.63,36.00 L679.06,36.00 L679.50,36.00 L679.93,36.00 L680.36,36.00 L680.80,36.00 L681.23,36.00 L681.66,36.00 L682.10,36.00 L682.53,36.00 L682.96,36.00 L683.40,36.00 L683.83,36.00 L684.27,36.00 L684.70,36.00 L685.13,36.00 L685.57,36.00 L686.00,36.00 L686.43,36.00 L686.87,36.00 L687.30,36.00" stroke="#6a6ad0"/>
<path d="M427.60,240.90 L428.03,240.90 L428.47,240.90 L428.90,240.90 L429.33,240.90 L429.77,240.90 L430.20,240.90 L430.63,240.90 L431.07,240.90 L431.50,240.89 L431.94,240.86 L432.37,240.79 L432.80,240.69 L433.24,240.56 L433.67,240.40 L434.10,240.22 L434.54,240.00 L434.97,239.75 L435.40,239.47 L435.84,239.16 L436.27,238.82 L436.70,238.45 L437.14,238.05 L437.57,237.62 L438.01,237.16 L438.44,236.67 L438.87,236.16 L439.31,235.61 L439.74,235.04 L440.17,234.43 L440.61,233.80 L441.04,233.14 L441.47,232.45 L441.91,231.74 L442.34,231.00 L442.77,230.23 L443.21,229.43 L443.64,228.61 L444.08,227.76 L444.51,226.88 L444.94,225.98 L445.38,225.05 L445.81,224.10 L446.24,223.13 L446.68,222.12 L447.11,221.10 L447.54,220.05 L447.98,218.98 L448.41,217.88 L448.84,216.76 L449.28,215.62 L449.71,214.46 L450.14,213.28 L450.58,212.07 L451.01,210.85 L451.45,209.60 L451.88,208.33 L452.31,207.05 L452.75,205.74 L453.18,204.42 L453.61,203.08 L454.05,201.72 L454.48,200.34 L454.91,198.95 L455.35,197.54 L455.78,196.11 L456.21,194.67 L456.65,193.22 L457.08,191.75 L457.52,190.26 L457.95,188.76 L458.38,187.25 L458.82,185.73 L459.25,184.19 L459.68,182.64 L460.12,181.08 L460.55,179.51 L460.98,177.93 L461.42,176.34 L461.85,174.75 L462.28,173.14 L462.72,171.52 L463.15,169.90 L463.59,168.27 L464.02,166.63 L464.45,164.99 L464.89,163.34 L465.32,161.69 L465.75,160.03 L466.19,158.37 L466.62,156.70 L467.05,155.03 L467.49,153.36 L467.92,151.68 L468.35,150.01 L468.79,148.33 L469.22,146.65 L469.65,144.97 L470.09,143.30 L470.52,141.62 L470.96,139.94 L471.39,138.27 L471.82,136.60 L472.26,134.93 L472.69,133.26 L473.12,131.60 L473.56,129.94 L473.99,128.29 L474.42,126.64 L474.86,125.00 L475.29,123.36 L475.72,121.73 L476.16,120.10 L476.59,118.49 L477.03,116.88 L477.46,115.27 L477.89,113.68 L478.33,112.10 L478.76,110.52 L479.19,108.96 L479.63,107.40 L480.06,105.86 L480.49,104.32 L480.93,102.80 L481.36,101.29 L481.79,99.79 L482.23,98.30 L482.66,96.82 L483.10,95.36 L483.53,93.91 L483.96,92.48 L484.40,91.05 L484.83,89.65 L485.26,88.25 L485.70,86.87 L486.13,85.51 L486.56,84.16 L487.00,82.83 L487.43,81.51 L487.86,80.21 L488.30,78.93 L488.73,77.66 L489.16,76.41 L489.60,75.17 L490.03,73.96 L490.47,72.76 L490.90,71.58 L491.33,70.41 L491.77,69.27 L492.20,68.14 L492.63,67.03 L493.07,65.94 L493.50,64.87 L493.93,63.81 L494.37,62.78 L494.80,61.76 L495.23,60.77 L495.67,59.79 L496.10,58.83 L496.54,57.90 L496.97,56.98 L497.40,56.08 L497.84,55.20 L498.27,54.34 L498.70,53.50 L499.14,52.68 L499.57,51.88 L500.00,51.10 L500.44,50.34 L500.87,49.60 L501.30,48.88 L501.74,48.18 L502.17,47.50 L502.61,46.84 L503.04,46.20 L503.47,45.58 L503.91,44.98 L504.34,44.40 L504.77,43.84 L505.21,43.30 L505.64,42.78 L506.07,42.28 L506.51,41.80 L506.94,41.34 L507.37,40.89 L507.81,40.47 L508.24,40.06 L508.67,39.68 L509.11,39.31 L509.54,38.96 L509.98,38.63 L510.41,38.32 L510.84,38.03 L511.28,37.75 L511.71,37.50 L512.14,37.26 L512.58,37.04 L513.01,36.84 L513.44,36.65 L513.88,36.48 L514.31,36.33 L514.74,36.19 L515.18,36.08 L515.61,36.00 L516.05,36.00 L516.48,36.00 L516.91,36.00 L517.35,36.00 L517.78,36.00 L518.21,36.00 L518.65,36.00 L519.08,36.00 L519.51,36.00 L519.95,36.00 L520.38,36.00 L520.81,36.00 L521.25,36.06 L521.68,36.16 L522.12,36.28 L522.55,36.42 L522.98,36.56 L523.42,36.72 L523.85,36.89 L524.28,37.07 L524.72,37.26 L525.15,37.46 L525.58,37.68 L526.02,37.91 L526.45,38.14 L526.88,38.39 L527.32,38.65 L527.75,38.91 L528.18,39.19 L528.62,39.47 L529.05,39.77 L529.49,40.07 L529.92,40.38 L530.35,40.70 L530.79,41.03 L531.22,41.36 L531.65,41.71 L532.09,42.05 L532.52,42.41 L532.95,42.77 L533.39,43.14 L533.82,43.52 L534.25,43.90 L534.69,44.28 L535.12,44.68 L535.56,45.07 L535.99,45.47 L536.42,45.88 L536.86,46.29 L537.29,46.70 L537.72,47.12 L538.16,47.54 L538.59,47.96 L539.02,48.39 L539.46,48.82 L539.89,49.25 L540.32,49.68 L540.76,50.12 L541.19,50.56 L541.63,51.00 L542.06,51.44 L542.49,51.88 L542.93,52.32 L543.36,52.76 L543.79,53.21 L544.23,53.65 L544.66,54.10 L545.09,54.54 L545.53,54.98 L545.96,55.42 L546.39,55.86 L546.83,56.30 L547.26,56.74 L547.69,57.18 L548.13,57.61 L548.56,58.05 L549.00,58.48 L549.43,58.91 L549.86,59.34 L550.30,59.76 L550.73,60.18 L551.16,60.60 L551.60,61.02 L552.03,61.43 L552.46,61.84 L552.90,62.24 L553.33,62.64 L553.76,63.04 L554.20,63.44 L554.63,63.83 L555.07,64.21 L555.50,64.59 L555.93,64.97 L556.37,65.34 L556.80,65.71 L557.23,66.07 L557.67,66.43 L558.10,66.78 L558.53,67.13 L558.97,67.47 L559.40,67.80 L559.83,68.14 L560.27,68.46 L560.70,68.78 L561.14,69.09 L561.57,69.40 L562.00,69.70 L562.44,70.00 L562.87,70.29 L563.30,70.57 L563.74,70.85 L564.17,71.12 L564.60,71.39 L565.04,71.65 L565.47,71.90 L565.90,72.14 L566.34,72.38 L566.77,72.62 L567.21,72.84 L567.64,73.06 L568.07,73.27 L568.51,73.48 L568.94,73.68 L569.37,73.87 L569.81,74.06 L570.24,74.24 L570.67,74.41 L571.11,74.58 L571.54,74.74 L571.97,74.89 L572.41,75.04 L572.84,75.17 L573.27,75.31 L573.71,75.43 L574.14,75.55 L574.58,75.66 L575.01,75.77 L575.44,75.87 L575.88,75.96 L576.31,76.04 L576.74,76.12 L577.18,76.20 L577.61,76.26 L578.04,76.32 L578.48,76.37 L578.91,76.42 L579.34,76.46 L579.78,76.49 L580.21,76.52 L580.65,76.54 L581.08,76.55 L581.51,76.56 L581.95,76.57 L582.38,76.56 L582.81,76.55 L583.25,76.54 L583.68,76.51 L584.11,76.49 L584.55,76.45 L584.98,76.41 L585.41,76.37 L585.85,76.32 L586.28,76.26 L586.72,76.20 L587.15,76.13 L587.58,76.06 L588.02,75.98 L588.45,75.90 L588.88,75.81 L589.32,75.72 L589.75,75.62 L590.18,75.52 L590.62,75.41 L591.05,75.30 L591.48,75.18 L591.92,75.06 L592.35,74.94 L592.78,74.80 L593.22,74.67 L593.65,74.53 L594.09,74.39 L594.52,74.24 L594.95,74.09 L595.39,73.93 L595.82,73.77 L596.25,73.61 L596.69,73.44 L597.12,73.27 L597.55,73.10 L597.99,72.92 L598.42,72.74 L598.85,72.55 L599.29,72.37 L599.72,72.17 L600.16,71.98 L600.59,71.78 L601.02,71.58 L601.46,71.38 L601.89,71.18 L602.32,70.97 L602.76,70.76 L603.19,70.54 L603.62,70.33 L604.06,70.11 L604.49,69.89 L604.92,69.67 L605.36,69.44 L605.79,69.22 L606.23,68.99 L606.66,68.76 L607.09,68.53 L607.53,68.29 L607.96,68.06 L608.39,67.82 L608.83,67.58 L609.26,67.34 L609.69,67.10 L610.13,66.86 L610.56,66.61 L610.99,66.37 L611.43,66.12 L611.86,65.88 L612.29,65.63 L612.73,65.38 L613.16,65.13 L613.60,64.88 L614.03,64.63 L614.46,64.38 L614.90,64.13 L615.33,63.87 L615.76,63.62 L616.20,63.37 L616.63,63.11 L617.06,62.86 L617.50,62.61 L617.93,62.35 L618.36,62.10 L618.80,61.84 L619.23,61.59 L619.67,61.34 L620.10,61.08 L620.53,60.83 L620.97,60.58 L621.40,60.32 L621.83,60.07 L622.27,59.82 L622.70,59.57 L623.13,59.32 L623.57,59.07 L624.00,58.82 L624.43,58.57 L624.87,58.32 L625.30,58.07 L625.74,57.82 L626.17,57.58 L626.60,57.33 L627.04,57.09 L627.47,56.84 L627.90,56.60 L628.34,56.36 L628.77,56.12 L629.20,55.88 L629.64,55.64 L630.07,55.41 L630.50,55.17 L630.94,54.94 L631.37,54.70 L631.80,54.47 L632.24,54.24 L632.67,54.01 L633.11,53.78 L633.54,53.55 L633.97,53.33 L634.41,53.11 L634.84,52.88 L635.27,52.66 L635.71,52.44 L636.14,52.22 L636.57,52.01 L637.01,51.79 L637.44,51.58 L637.87,51.37 L638.31,51.16 L638.74,50.95 L639.18,50.74 L639.61,50.53 L640.04,50.33 L640.48,50.13 L640.91,49.93 L641.34,49.73 L641.78,49.53 L642.21,49.34 L642.64,49.14 L643.08,48.95 L643.51,48.76 L643.94,48.57 L644.38,48.38 L644.81,48.20 L645.25,48.02 L645.68,47.83 L646.11,47.66 L646.55,47.48 L646.98,47.30 L647.41,47.13 L647.85,46.95 L648.28,46.78 L648.71,46.61 L649.15,46.45 L649.58,46.28 L650.01,46.12 L650.45,45.95 L650.88,45.79 L651.31,45.63 L651.75,45.48 L652.18,45.32 L652.62,45.17 L653.05,45.02 L653.48,44.87 L653.92,44.72 L654.35,44.57 L654.78,44.43 L655.22,44.29 L655.65,44.14 L656.08,44.01 L656.52,43.87 L656.95,43.73 L657.38,43.60 L657.82,43.46 L658.25,43.33 L658.69,43.20 L659.12,43.08 L659.55,42.95 L659.99,42.83 L660.42,42.70 L660.85,42.58 L661.29,42.46 L661.72,42.34 L662.15,42.23 L662.59,42.11 L663.02,42.00 L663.45,41.89 L663.89,41.78 L664.32,41.67 L664.76,41.56 L665.19,41.46 L665.62,41.35 L666.06,41.25 L666.49,41.15 L666.92,41.05 L667.36,40.95 L667.79,40.85 L668.22,40.76 L668.66,40.67 L669.09,40.57 L669.52,40.48 L669.96,40.39 L670.39,40.30 L670.82,40.22 L671.26,40.13 L671.69,40.05 L672.13,39.96 L672.56,39.88 L672.99,39.80 L673.43,39.72 L673.86,39.64 L674.29,39.57 L674.73,39.49 L675.16,39.42 L675.59,39.34 L676.03,39.27 L676.46,39.20 L676.89,39.13 L677.33,39.06 L677.76,39.00 L678.20,38.93 L678.63,38.87 L679.06,38.80 L679.50,38.74 L679.93,38.68 L680.36,38.62 L680.80,38.56 L681.23,38.50 L681.66,38.44 L682.10,38.38 L682.53,38.33 L682.96,38.27 L683.40,38.22 L683.83,38.17 L684.27,38.12 L684.70,38.07 L685.13,38.02 L685.57,37.97 L686.00,37.92 L686.43,37.87 L686.87,37.83 L687.30,37.78" stroke="#ee6a6a"/>
<path d="M427.60,240.90 L428.03,240.90 L428.47,240.90 L428.90,240.90 L429.33,240.90 L429.77,240.90 L430.20,240.90 L430.63,240.90 L431.07,240.90 L431.50,240.88 L431.94,240.82 L432.37,240.71 L432.80,240.55 L433.24,240.35 L433.67,240.10 L434.10,239.81 L434.54,239.47 L434.97,239.09 L435.40,238.67 L435.84,238.20 L436.27,237.68 L436.70,237.12 L437.14,236.52 L437.57,235.88 L438.01,235.19 L438.44,234.46 L438.87,233.69 L439.31,232.87 L439.74,232.02 L440.17,231.12 L440.61,230.18 L441.04,229.20 L441.47,228.19 L441.91,227.13 L442.34,226.03 L442.77,224.90 L443.21,223.73 L443.64,222.52 L444.08,221.28 L444.51,220.00 L444.94,218.68 L445.38,217.33 L445.81,215.95 L446.24,214.54 L446.68,213.09 L447.11,211.61 L447.54,210.10 L447.98,208.56 L448.41,206.99 L448.84,205.39 L449.28,203.76 L449.71,202.11 L450.14,200.42 L450.58,198.72 L451.01,196.99 L451.45,195.23 L451.88,193.46 L452.31,191.66 L452.75,189.84 L453.18,188.00 L453.61,186.13 L454.05,184.25 L454.48,182.36 L454.91,180.44 L455.35,178.51 L455.78,176.57 L456.21,174.61 L456.65,172.64 L457.08,170.65 L457.52,168.65 L457.95,166.65 L458.38,164.63 L458.82,162.61 L459.25,160.57 L459.68,158.53 L460.12,156.49 L460.55,154.43 L460.98,152.38 L461.42,150.32 L461.85,148.26 L462.28,146.20 L462.72,144.13 L463.15,142.07 L463.59,140.01 L464.02,137.95 L464.45,135.90 L464.89,133.84 L465.32,131.80 L465.75,129.76 L466.19,127.72 L466.62,125.69 L467.05,123.67 L467.49,121.66 L467.92,119.66 L468.35,117.67 L468.79,115.69 L469.22,113.73 L469.65,111.77 L470.09,109.83 L470.52,107.91 L470.96,105.99 L471.39,104.10 L471.82,102.22 L472.26,100.36 L472.69,98.52 L473.12,96.69 L473.56,94.89 L473.99,93.10 L474.42,91.34 L474.86,89.59 L475.29,87.87 L475.72,86.17 L476.16,84.49 L476.59,82.84 L477.03,81.21 L477.46,79.61 L477.89,78.02 L478.33,76.47 L478.76,74.94 L479.19,73.44 L479.63,71.96 L480.06,70.51 L480.49,69.09 L480.93,67.69 L481.36,66.32 L481.79,64.99 L482.23,63.68 L482.66,62.40 L483.10,61.14 L483.53,59.92 L483.96,58.73 L484.40,57.57 L484.83,56.43 L485.26,55.33 L485.70,54.26 L486.13,53.22 L486.56,52.21 L487.00,51.23 L487.43,50.28 L487.86,49.36 L488.30,48.47 L488.73,47.62 L489.16,46.79 L489.60,46.00 L490.03,45.23 L490.47,44.50 L490.90,43.80 L491.33,43.13 L491.77,42.48 L492.20,41.87 L492.63,41.29 L493.07,40.74 L493.50,40.22 L493.93,39.73 L494.37,39.27 L494.80,38.84 L495.23,38.44 L495.67,38.07 L496.10,37.72 L496.54,37.40 L496.97,37.12 L497.40,36.86 L497.84,36.62 L498.27,36.42 L498.70,36.24 L499.14,36.09 L499.57,36.00 L500.00,36.00 L500.44,36.00 L500.87,36.00 L501.30,36.00 L501.74,36.00 L502.17,36.00 L502.61,36.00 L503.04,36.00 L503.47,36.00 L503.91,36.03 L504.34,36.17 L504.77,36.32 L505.21,36.49 L505.64,36.68 L506.07,36.90 L506.51,37.13 L506.94,37.38 L507.37,37.64 L507.81,37.93 L508.24,38.23 L508.67,38.54 L509.11,38.87 L509.54,39.22 L509.98,39.58 L510.41,39.96 L510.84,40.35 L511.28,40.75 L511.71,41.16 L512.14,41.58 L512.58,42.02 L513.01,42.47 L513.44,42.92 L513.88,43.39 L514.31,43.86 L514.74,44.34 L515.18,44.83 L515.61,45.33 L516.05,45.84 L516.48,46.35 L516.91,46.86 L517.35,47.38 L517.78,47.90 L518.21,48.43 L518.65,48.96 L519.08,49.50 L519.51,50.03 L519.95,50.57 L520.38,51.11 L520.81,51.65 L521.25,52.19 L521.68,52.73 L522.12,53.27 L522.55,53.81 L522.98,54.34 L523.42,54.87 L523.85,55.40 L524.28,55.93 L524.72,56.45 L525.15,56.97 L525.58,57.49 L526.02,58.00 L526.45,58.50 L526.88,59.00 L527.32,59.49 L527.75,59.98 L528.18,60.46 L528.62,60.93 L529.05,61.39 L529.49,61.85 L529.92,62.30 L530.35,62.74 L530.79,63.17 L531.22,63.59 L531.65,64.00 L532.09,64.40 L532.52,64.79 L532.95,65.17 L533.39,65.54 L533.82,65.90 L534.25,66.24 L534.69,66.58 L535.12,66.91 L535.56,67.22 L535.99,67.52 L536.42,67.81 L536.86,68.08 L537.29,68.35 L537.72,68.60 L538.16,68.84 L538.59,69.06 L539.02,69.28 L539.46,69.48 L539.89,69.66 L540.32,69.84 L540.76,70.00 L541.19,70.14 L541.63,70.28 L542.06,70.40 L542.49,70.51 L542.93,70.60 L543.36,70.68 L543.79,70.75 L544.23,70.80 L544.66,70.84 L545.09,70.87 L545.53,70.88 L545.96,70.88 L546.39,70.87 L546.83,70.84 L547.26,70.80 L547.69,70.75 L548.13,70.68 L548.56,70.61 L549.00,70.52 L549.43,70.41 L549.86,70.30 L550.30,70.17 L550.73,70.03 L551.16,69.88 L551.60,69.72 L552.03,69.55 L552.46,69.36 L552.90,69.16 L553.33,68.96 L553.76,68.74 L554.20,68.51 L554.63,68.27 L555.07,68.02 L555.50,67.76 L555.93,67.50 L556.37,67.22 L556.80,66.93 L557.23,66.64 L557.67,66.33 L558.10,66.02 L558.53,65.70 L558.97,65.37 L559.40,65.03 L559.83,64.69 L560.27,64.34 L560.70,63.98 L561.14,63.62 L561.57,63.25 L562.00,62.87 L562.44,62.49 L562.87,62.10 L563.30,61.71 L563.74,61.31 L564.17,60.91 L564.60,60.50 L565.04,60.09 L565.47,59.68 L565.90,59.26 L566.34,58.84 L566.77,58.41 L567.21,57.99 L567.64,57.56 L568.07,57.13 L568.51,56.70 L568.94,56.26 L569.37,55.83 L569.81,55.39 L570.24,54.96 L570.67,54.52 L571.11,54.08 L571.54,53.65 L571.97,53.21 L572.41,52.78 L572.84,52.34 L573.27,51.91 L573.71,51.48 L574.14,51.05 L574.58,50.63 L575.01,50.20 L575.44,49.78 L575.88,49.36 L576.31,48.94 L576.74,48.53 L577.18,48.12 L577.61,47.72 L578.04,47.32 L578.48,46.92 L578.91,46.53 L579.34,46.14 L579.78,45.75 L580.21,45.38 L580.65,45.00 L581.08,44.64 L581.51,44.27 L581.95,43.92 L582.38,43.57 L582.81,43.22 L583.25,42.88 L583.68,42.55 L584.11,42.23 L584.55,41.91 L584.98,41.60 L585.41,41.29 L585.85,41.00 L586.28,40.71 L586.72,40.42 L587.15,40.15 L587.58,39.88 L588.02,39.62 L588.45,39.37 L588.88,39.13 L589.32,38.89 L589.75,38.66 L590.18,38.44 L590.62,38.23 L591.05,38.03 L591.48,37.83 L591.92,37.65 L592.35,37.47 L592.78,37.30 L593.22,37.14 L593.65,36.99 L594.09,36.84 L594.52,36.71 L594.95,36.58 L595.39,36.46 L595.82,36.35 L596.25,36.25 L596.69,36.16 L597.12,36.07 L597.55,36.00 L597.99,36.00 L598.42,36.00 L598.85,36.00 L599.29,36.00 L599.72,36.00 L600.16,36.00 L600.59,36.00 L601.02,36.00 L601.46,36.00 L601.89,36.00 L602.32,36.00 L602.76,36.00 L603.19,36.00 L603.62,36.00 L604.06,36.00 L604.49,36.00 L604.92,36.00 L605.36,36.06 L605.79,36.14 L606.23,36.23 L606.66,36.32 L607.09,36.42 L607.53,36.52 L607.96,36.64 L608.39,36.76 L608.83,36.89 L609.26,37.02 L609.69,37.16 L610.13,37.31 L610.56,37.46 L610.99,37.62 L611.43,37.78 L611.86,37.95 L612.29,38.13 L612.73,38.31 L613.16,38.49 L613.60,38.69 L614.03,38.88 L614.46,39.08 L614.90,39.29 L615.33,39.50 L615.76,39.72 L616.20,39.94 L616.63,40.16 L617.06,40.39 L617.50,40.62 L617.93,40.86 L618.36,41.10 L618.80,41.34 L619.23,41.59 L619.67,41.83 L620.10,42.09 L620.53,42.34 L620.97,42.60 L621.40,42.86 L621.83,43.12 L622.27,43.38 L622.70,43.65 L623.13,43.92 L623.57,44.19 L624.00,44.46 L624.43,44.73 L624.87,45.01 L625.30,45.28 L625.74,45.56 L626.17,45.84 L626.60,46.12 L627.04,46.40 L627.47,46.68 L627.90,46.95 L628.34,47.23 L628.77,47.51 L629.20,47.79 L629.64,48.07 L630.07,48.35 L630.50,48.63 L630.94,48.91 L631.37,49.18 L631.80,49.46 L632.24,49.73 L632.67,50.01 L633.11,50.28 L633.54,50.55 L633.97,50.82 L634.41,51.09 L634.84,51.36 L635.27,51.62 L635.71,51.88 L636.14,52.14 L636.57,52.40 L637.01,52.66 L637.44,52.91 L637.87,53.16 L638.31,53.41 L638.74,53.65 L639.18,53.90 L639.61,54.14 L640.04,54.37 L640.48,54.61 L640.91,54.84 L641.34,55.07 L641.78,55.29 L642.21,55.51 L642.64,55.73 L643.08,55.95 L643.51,56.16 L643.94,56.36 L644.38,56.57 L644.81,56.77 L645.25,56.96 L645.68,57.16 L646.11,57.34 L646.55,57.53 L646.98,57.71 L647.41,57.88 L647.85,58.06 L648.28,58.23 L648.71,58.39 L649.15,58.55 L649.58,58.70 L650.01,58.86 L650.45,59.00 L650.88,59.15 L651.31,59.28 L651.75,59.42 L652.18,59.55 L652.62,59.67 L653.05,59.79 L653.48,59.91 L653.92,60.02 L654.35,60.13 L654.78,60.23 L655.22,60.33 L655.65,60.43 L656.08,60.52 L656.52,60.60 L656.95,60.68 L657.38,60.76 L657.82,60.83 L658.25,60.90 L658.69,60.96 L659.12,61.02 L659.55,61.08 L659.99,61.13 L660.42,61.17 L660.85,61.21 L661.29,61.25 L661.72,61.28 L662.15,61.31 L662.59,61.34 L663.02,61.36 L663.45,61.37 L663.89,61.39 L664.32,61.39 L664.76,61.40 L665.19,61.40 L665.62,61.39 L666.06,61.38 L666.49,61.37 L666.92,61.35 L667.36,61.33 L667.79,61.31 L668.22,61.28 L668.66,61.25 L669.09,61.22 L669.52,61.18 L669.96,61.13 L670.39,61.09 L670.82,61.04 L671.26,60.98 L671.69,60.93 L672.13,60.87 L672.56,60.80 L672.99,60.74 L673.43,60.67 L673.86,60.60 L674.29,60.52 L674.73,60.44 L675.16,60.36 L675.59,60.27 L676.03,60.19 L676.46,60.09 L676.89,60.00 L677.33,59.90 L677.76,59.80 L678.20,59.70 L678.63,59.60 L679.06,59.49 L679.50,59.38 L679.93,59.27 L680.36,59.16 L680.80,59.04 L681.23,58.92 L681.66,58.80 L682.10,58.68 L682.53,58.55 L682.96,58.43 L683.40,58.30 L683.83,58.17 L684.27,58.03 L684.70,57.90 L685.13,57.76 L685.57,57.63 L686.00,57.49 L686.43,57.35 L686.87,57.20 L687.30,57.06" stroke="#4fb84f"/>
</g>
<g clip-path="url(#clipE)" fill="none" stroke-width="1.1">
<path d="M427.60,224.00 L428.14,224.01 L428.88,224.04 L429.76,224.06 L430.72,224.07 L431.72,224.06 L432.70,224.00 L433.68,223.91 L434.71,223.80 L435.77,223.66 L436.86,223.48 L437.94,223.27 L439.00,223.00 L440.06,222.69 L441.12,222.33 L442.19,221.94 L443.24,221.50 L444.28,221.02 L445.30,220.50 L446.28,219.94 L447.23,219.34 L448.17,218.70 L449.10,218.01 L450.04,217.28 L451.00,216.50 L451.98,215.68 L452.96,214.82 L453.95,213.92 L454.95,212.96 L455.97,211.92 L457.00,210.80 L458.05,209.58 L459.12,208.27 L460.21,206.89 L461.30,205.45 L462.40,203.98 L463.50,202.50 L464.62,200.97 L465.75,199.39 L466.89,197.76 L468.03,196.14 L469.13,194.54 L470.20,193.00 L471.21,191.55 L472.18,190.16 L473.12,188.79 L474.06,187.42 L475.01,186.00 L476.00,184.50 L477.03,182.89 L478.09,181.19 L479.17,179.45 L480.24,177.70 L481.29,175.97 L482.30,174.30 L483.24,172.74 L484.13,171.26 L484.99,169.81 L485.86,168.33 L486.79,166.74 L487.80,165.00 L488.93,163.03 L490.15,160.88 L491.43,158.62 L492.70,156.37 L493.94,154.19 L495.10,152.20 L496.16,150.40 L497.16,148.73 L498.11,147.14 L499.06,145.60 L500.01,144.07 L501.00,142.50 L502.03,140.91 L503.07,139.33 L504.13,137.75 L505.19,136.17 L506.25,134.59 L507.30,133.00 L508.34,131.39 L509.38,129.77 L510.42,128.15 L511.45,126.53 L512.48,124.91 L513.50,123.30 L514.51,121.71 L515.50,120.13 L516.48,118.56 L517.47,116.98 L518.47,115.40 L519.50,113.80 L520.56,112.17 L521.64,110.53 L522.74,108.87 L523.84,107.22 L524.93,105.59 L526.00,104.00 L527.04,102.42 L528.07,100.85 L529.09,99.29 L530.10,97.79 L531.10,96.35 L532.10,95.00 L533.09,93.76 L534.06,92.60 L535.03,91.52 L536.00,90.49 L536.98,89.48 L538.00,88.50 L539.05,87.56 L540.12,86.68 L541.21,85.83 L542.31,84.99 L543.41,84.12 L544.50,83.20 L545.59,82.21 L546.67,81.17 L547.76,80.11 L548.85,79.04 L549.93,78.00 L551.00,77.00 L552.06,76.04 L553.12,75.09 L554.17,74.17 L555.21,73.27 L556.26,72.42 L557.30,71.60 L558.34,70.83 L559.38,70.10 L560.42,69.41 L561.45,68.75 L562.48,68.12 L563.50,67.50 L564.44,66.93 L565.29,66.43 L566.12,65.94 L567.05,65.45 L568.14,64.92 L569.50,64.30 L571.17,63.59 L573.11,62.80 L575.21,61.96 L577.40,61.11 L579.59,60.28 L581.70,59.50 L583.73,58.74 L585.76,57.99 L587.78,57.25 L589.81,56.54 L591.85,55.89 L593.90,55.30 L595.96,54.79 L598.03,54.34 L600.11,53.94 L602.19,53.58 L604.29,53.24 L606.40,52.90 L608.54,52.57 L610.70,52.25 L612.87,51.96 L615.04,51.68 L617.19,51.43 L619.30,51.20 L621.36,51.00 L623.37,50.83 L625.37,50.68 L627.36,50.55 L629.36,50.42 L631.40,50.30 L633.48,50.18 L635.58,50.06 L637.69,49.95 L639.81,49.85 L641.92,49.77 L644.00,49.70 L646.06,49.65 L648.10,49.63 L650.12,49.62 L652.15,49.61 L654.17,49.61 L656.20,49.60 L658.16,49.58 L660.02,49.56 L661.88,49.54 L663.84,49.53 L665.98,49.51 L668.40,49.50 L671.38,49.49 L674.90,49.49 L678.61,49.49 L682.15,49.50 L685.17,49.50 L687.30,49.50" stroke="#6a6ad0"/>
<path d="M427.60,200.00 L428.07,199.85 L428.70,199.66 L429.45,199.42 L430.29,199.12 L431.19,198.75 L432.10,198.30 L433.05,197.77 L434.08,197.17 L435.16,196.49 L436.27,195.74 L437.39,194.91 L438.50,194.00 L439.60,193.06 L440.71,192.11 L441.83,191.09 L442.97,189.91 L444.12,188.50 L445.30,186.80 L446.54,184.67 L447.86,182.13 L449.19,179.38 L450.49,176.57 L451.71,173.88 L452.80,171.50 L453.73,169.44 L454.53,167.56 L455.26,165.81 L455.94,164.13 L456.64,162.44 L457.40,160.70 L458.20,158.96 L459.01,157.29 L459.84,155.61 L460.67,153.88 L461.53,152.03 L462.40,150.00 L463.27,147.85 L464.13,145.65 L465.01,143.33 L465.93,140.83 L466.92,138.07 L468.00,135.00 L469.20,131.48 L470.50,127.54 L471.87,123.36 L473.27,119.09 L474.66,114.91 L476.00,111.00 L477.32,107.29 L478.65,103.65 L479.97,100.09 L481.26,96.66 L482.51,93.39 L483.70,90.30 L484.82,87.39 L485.89,84.63 L486.92,82.02 L487.91,79.58 L488.87,77.30 L489.80,75.20 L490.69,73.31 L491.54,71.63 L492.36,70.11 L493.16,68.72 L493.97,67.40 L494.80,66.10 L495.63,64.87 L496.44,63.75 L497.26,62.71 L498.10,61.69 L499.01,60.67 L500.00,59.60 L501.11,58.44 L502.32,57.23 L503.59,56.00 L504.87,54.82 L506.12,53.73 L507.30,52.80 L508.39,52.03 L509.42,51.38 L510.42,50.82 L511.41,50.34 L512.43,49.91 L513.50,49.50 L514.64,49.11 L515.83,48.75 L517.04,48.44 L518.25,48.19 L519.41,48.00 L520.50,47.90 L521.50,47.89 L522.42,47.96 L523.31,48.09 L524.18,48.29 L525.07,48.53 L526.00,48.80 L526.98,49.10 L528.00,49.45 L529.03,49.84 L530.06,50.28 L531.09,50.77 L532.10,51.30 L533.09,51.89 L534.06,52.54 L535.03,53.24 L536.00,53.98 L536.98,54.73 L538.00,55.50 L539.05,56.30 L540.12,57.14 L541.21,58.01 L542.31,58.88 L543.41,59.72 L544.50,60.50 L545.59,61.23 L546.68,61.93 L547.77,62.61 L548.86,63.26 L549.93,63.89 L551.00,64.50 L551.98,65.06 L552.86,65.56 L553.74,66.04 L554.69,66.54 L555.82,67.11 L557.20,67.80 L558.90,68.65 L560.85,69.65 L562.98,70.71 L565.18,71.77 L567.39,72.76 L569.50,73.60 L571.54,74.32 L573.57,74.99 L575.61,75.57 L577.64,76.07 L579.67,76.45 L581.70,76.70 L583.73,76.81 L585.76,76.80 L587.78,76.67 L589.81,76.44 L591.85,76.12 L593.90,75.70 L595.96,75.15 L598.03,74.47 L600.11,73.68 L602.19,72.84 L604.29,72.00 L606.40,71.20 L608.54,70.43 L610.70,69.66 L612.87,68.89 L615.04,68.10 L617.19,67.31 L619.30,66.50 L621.36,65.66 L623.39,64.79 L625.39,63.91 L627.39,63.03 L629.39,62.19 L631.40,61.40 L633.42,60.67 L635.44,59.97 L637.47,59.31 L639.50,58.67 L641.54,58.04 L643.60,57.40 L645.68,56.76 L647.79,56.11 L649.90,55.48 L652.01,54.86 L654.12,54.26 L656.20,53.70 L658.26,53.17 L660.32,52.66 L662.36,52.17 L664.39,51.71 L666.41,51.29 L668.40,50.90 L670.42,50.55 L672.47,50.24 L674.51,49.96 L676.47,49.71 L678.32,49.49 L680.00,49.30 L681.55,49.14 L683.02,49.00 L684.38,48.90 L685.57,48.82 L686.56,48.75 L687.30,48.70" stroke="#ee6a6a"/>
<path d="M427.60,181.00 L428.18,180.86 L428.99,180.67 L429.95,180.45 L430.97,180.18 L431.98,179.87 L432.90,179.50 L433.72,179.10 L434.51,178.68 L435.29,178.21 L436.07,177.67 L436.87,177.04 L437.70,176.30 L438.57,175.45 L439.46,174.51 L440.36,173.48 L441.28,172.36 L442.19,171.17 L443.10,169.90 L444.02,168.55 L444.96,167.10 L445.91,165.57 L446.83,163.98 L447.70,162.35 L448.50,160.70 L449.19,159.05 L449.79,157.40 L450.33,155.71 L450.88,153.94 L451.49,152.05 L452.20,150.00 L453.01,147.85 L453.87,145.63 L454.79,143.30 L455.77,140.79 L456.81,138.04 L457.90,135.00 L459.12,131.48 L460.47,127.49 L461.89,123.26 L463.28,119.03 L464.58,115.03 L465.70,111.50 L466.61,108.47 L467.37,105.77 L468.03,103.29 L468.64,100.96 L469.28,98.66 L470.00,96.30 L470.79,93.90 L471.61,91.54 L472.46,89.22 L473.31,86.94 L474.16,84.70 L475.00,82.50 L475.83,80.31 L476.67,78.11 L477.50,75.95 L478.33,73.88 L479.17,71.95 L480.00,70.20 L480.83,68.66 L481.66,67.31 L482.49,66.09 L483.33,64.96 L484.16,63.88 L485.00,62.80 L485.85,61.73 L486.70,60.70 L487.56,59.71 L488.41,58.78 L489.26,57.91 L490.10,57.10 L490.92,56.36 L491.74,55.68 L492.54,55.06 L493.35,54.49 L494.17,53.97 L495.00,53.50 L495.83,53.06 L496.64,52.65 L497.47,52.29 L498.32,52.00 L499.23,51.79 L500.20,51.70 L501.27,51.72 L502.43,51.84 L503.63,52.04 L504.85,52.33 L506.05,52.68 L507.20,53.10 L508.28,53.60 L509.33,54.21 L510.36,54.88 L511.39,55.59 L512.43,56.31 L513.50,57.00 L514.61,57.67 L515.75,58.35 L516.91,59.03 L518.06,59.72 L519.20,60.41 L520.30,61.10 L521.37,61.80 L522.43,62.50 L523.46,63.21 L524.49,63.92 L525.50,64.62 L526.50,65.30 L527.48,65.98 L528.44,66.66 L529.38,67.34 L530.33,67.99 L531.30,68.62 L532.30,69.20 L533.34,69.75 L534.41,70.27 L535.49,70.76 L536.59,71.22 L537.70,71.63 L538.80,72.00 L539.92,72.33 L541.06,72.62 L542.21,72.87 L543.35,73.07 L544.45,73.22 L545.50,73.30 L546.48,73.31 L547.40,73.26 L548.28,73.14 L549.16,72.99 L550.06,72.80 L551.00,72.60 L551.92,72.44 L552.79,72.33 L553.67,72.19 L554.66,71.94 L555.81,71.50 L557.20,70.80 L558.90,69.73 L560.85,68.33 L562.98,66.74 L565.18,65.11 L567.39,63.58 L569.50,62.30 L571.54,61.28 L573.57,60.39 L575.61,59.61 L577.64,58.90 L579.67,58.21 L581.70,57.50 L583.73,56.78 L585.76,56.07 L587.78,55.38 L589.81,54.73 L591.85,54.14 L593.90,53.60 L595.97,53.11 L598.06,52.65 L600.15,52.24 L602.24,51.90 L604.33,51.65 L606.40,51.50 L608.44,51.45 L610.47,51.47 L612.48,51.59 L614.50,51.79 L616.54,52.09 L618.60,52.50 L620.71,53.03 L622.84,53.69 L625.00,54.45 L627.16,55.27 L629.29,56.13 L631.40,57.00 L633.46,57.92 L635.50,58.92 L637.51,59.96 L639.53,60.99 L641.55,61.95 L643.60,62.80 L645.68,63.55 L647.79,64.26 L649.90,64.90 L652.01,65.46 L654.12,65.93 L656.20,66.30 L658.26,66.54 L660.32,66.66 L662.36,66.69 L664.39,66.66 L666.41,66.59 L668.40,66.50 L670.42,66.38 L672.47,66.19 L674.51,65.96 L676.47,65.72 L678.32,65.49 L680.00,65.30 L681.55,65.13 L683.02,64.97 L684.38,64.82 L685.57,64.69 L686.56,64.58 L687.30,64.50" stroke="#4fb84f"/>
</g>
<g stroke="#7a7ae0" fill="#c8c8f6" stroke-width="0.9">
<circle cx="432.7" cy="224.0" r="2.0"/>
<circle cx="445.3" cy="220.8" r="2.0"/>
<circle cx="457.1" cy="210.4" r="2.0"/>
<circle cx="470.1" cy="193.5" r="2.0"/>
<circle cx="482.3" cy="173.3" r="2.0"/>
<circle cx="495.1" cy="150.9" r="2.0"/>
<circle cx="507.3" cy="132.4" r="2.0"/>
<circle cx="519.5" cy="113.6" r="2.0"/>
<circle cx="532.1" cy="94.7" r="2.0"/>
<circle cx="544.5" cy="83.6" r="2.0"/>
<circle cx="557.3" cy="71.6" r="2.0"/>
<circle cx="569.5" cy="63.9" r="2.0"/>
<circle cx="581.7" cy="59.0" r="2.0"/>
<circle cx="593.9" cy="54.7" r="2.0"/>
<circle cx="606.4" cy="53.7" r="2.0"/>
<circle cx="619.3" cy="49.7" r="2.0"/>
<circle cx="631.4" cy="51.3" r="2.0"/>
<circle cx="644.0" cy="47.6" r="2.0"/>
<circle cx="656.2" cy="49.6" r="2.0"/>
<circle cx="668.3" cy="48.3" r="2.0"/>
<circle cx="681.2" cy="49.0" r="2.0"/>
</g>
<g stroke="#ec8282" fill="#f8bcbc" stroke-width="0.9">
<circle cx="432.1" cy="198.6" r="2.0"/>
<circle cx="445.3" cy="187.0" r="2.0"/>
<circle cx="457.1" cy="160.5" r="2.0"/>
<circle cx="470.1" cy="127.4" r="2.0"/>
<circle cx="482.3" cy="93.3" r="2.0"/>
<circle cx="495.1" cy="66.6" r="2.0"/>
<circle cx="507.3" cy="52.8" r="2.0"/>
<circle cx="519.5" cy="47.9" r="2.0"/>
<circle cx="532.1" cy="52.4" r="2.0"/>
<circle cx="544.5" cy="60.6" r="2.0"/>
<circle cx="557.3" cy="68.0" r="2.0"/>
<circle cx="569.5" cy="74.3" r="2.0"/>
<circle cx="581.7" cy="77.7" r="2.0"/>
<circle cx="593.9" cy="75.7" r="2.0"/>
<circle cx="606.4" cy="71.2" r="2.0"/>
<circle cx="619.3" cy="67.1" r="2.0"/>
<circle cx="631.4" cy="61.4" r="2.0"/>
<circle cx="643.6" cy="57.8" r="2.0"/>
<circle cx="656.2" cy="53.7" r="2.0"/>
<circle cx="668.4" cy="50.3" r="2.0"/>
<circle cx="681.2" cy="49.6" r="2.0"/>
</g>
<g stroke="#3fbf3f" fill="#5cd85c" stroke-width="0.9">
<circle cx="432.7" cy="179.4" r="2.0"/>
<circle cx="444.9" cy="173.3" r="2.0"/>
<circle cx="457.1" cy="140.6" r="2.0"/>
<circle cx="470.1" cy="106.5" r="2.0"/>
<circle cx="482.3" cy="78.5" r="2.0"/>
<circle cx="495.1" cy="58.0" r="2.0"/>
<circle cx="507.3" cy="54.8" r="2.0"/>
<circle cx="519.5" cy="61.9" r="2.0"/>
<circle cx="532.1" cy="69.6" r="2.0"/>
<circle cx="544.5" cy="73.5" r="2.0"/>
<circle cx="557.2" cy="71.4" r="2.0"/>
<circle cx="569.5" cy="63.5" r="2.0"/>
<circle cx="581.7" cy="59.8" r="2.0"/>
<circle cx="593.9" cy="54.3" r="2.0"/>
<circle cx="606.4" cy="51.3" r="2.0"/>
<circle cx="619.3" cy="53.9" r="2.0"/>
<circle cx="631.4" cy="57.4" r="2.0"/>
<circle cx="644.0" cy="63.5" r="2.0"/>
<circle cx="656.2" cy="66.5" r="2.0"/>
<circle cx="668.4" cy="66.5" r="2.0"/>
<circle cx="681.3" cy="64.6" r="2.0"/>
</g>
<g stroke="#333" stroke-width="1" fill="none">
<path d="M427.6,241.1 H687.3"/>
<path d="M427.6,36.0 V241.1"/>
<path d="M687.3,36.0 V241.1"/>
</g>
<path d="M427.6,36.0 H687.3" stroke="#777" stroke-width="1.4"/>
<path d="M427.6,240.9 h2.5 M687.3,240.9 h-2.5 M427.6,220.4 h2.5 M687.3,220.4 h-2.5 M427.6,199.9 h2.5 M687.3,199.9 h-2.5 M427.6,179.3 h2.5 M687.3,179.3 h-2.5 M427.6,158.8 h2.5 M687.3,158.8 h-2.5 M427.6,138.3 h2.5 M687.3,138.3 h-2.5 M427.6,117.8 h2.5 M687.3,117.8 h-2.5 M427.6,97.3 h2.5 M687.3,97.3 h-2.5 M427.6,76.7 h2.5 M687.3,76.7 h-2.5 M427.6,56.2 h2.5 M687.3,56.2 h-2.5 M427.6,35.7 h2.5 M687.3,35.7 h-2.5 M431.2,241.1 v-2.5 M473.3,241.1 v-2.5 M515.4,241.1 v-2.5 M557.5,241.1 v-2.5 M599.6,241.1 v-2.5 M641.7,241.1 v-2.5 M683.8,241.1 v-2.5 M430.7,36.0 v2.5 M476.8,36.0 v2.5 M523.0,36.0 v2.5 M569.1,36.0 v2.5 M615.3,36.0 v2.5 M661.5,36.0 v2.5" stroke="#333" stroke-width="0.9"/>
<g font-family='"Liberation Sans", sans-serif' font-size="9.8" fill="#111">
<text x="422.6" y="244.1" text-anchor="end">0</text>
<text x="422.6" y="223.6" text-anchor="end">0.1</text>
<text x="422.6" y="203.1" text-anchor="end">0.2</text>
<text x="422.6" y="182.5" text-anchor="end">0.3</text>
<text x="422.6" y="162.0" text-anchor="end">0.4</text>
<text x="422.6" y="141.5" text-anchor="end">0.5</text>
<text x="422.6" y="121.0" text-anchor="end">0.6</text>
<text x="422.6" y="100.5" text-anchor="end">0.7</text>
<text x="422.6" y="79.9" text-anchor="end">0.8</text>
<text x="422.6" y="59.4" text-anchor="end">0.9</text>
<text x="422.6" y="38.9" text-anchor="end">1</text>
<text x="431.2" y="252.8" text-anchor="middle">0</text>
<text x="473.3" y="252.8" text-anchor="middle">10</text>
<text x="515.4" y="252.8" text-anchor="middle">20</text>
<text x="557.5" y="252.8" text-anchor="middle">30</text>
<text x="599.6" y="252.8" text-anchor="middle">40</text>
<text x="641.7" y="252.8" text-anchor="middle">50</text>
<text x="683.8" y="252.8" text-anchor="middle">60</text>
<text x="430.7" y="31.6" text-anchor="middle">0</text>
<text x="476.8" y="31.6" text-anchor="middle">0.5</text>
<text x="523.0" y="31.6" text-anchor="middle">1</text>
<text x="569.1" y="31.6" text-anchor="middle">1.5</text>
<text x="615.3" y="31.6" text-anchor="middle">2</text>
<text x="661.5" y="31.6" text-anchor="middle">2.5</text>
</g>
<text x="507.4" y="16.3" font-family='"Liberation Sans", sans-serif' font-size="10" fill="#111">Displacement |<tspan font-family='"Liberation Serif", serif' font-style="italic">α</tspan>|</text>
<text x="507.8" y="266.5" font-family='"Liberation Sans", sans-serif' font-size="9.75" fill="#111">Modulation time <tspan font-style="italic">t</tspan><tspan font-size="7" dy="2">F</tspan><tspan dy="-2"> (µs)</tspan></text>
<g font-family='"Liberation Sans", sans-serif' font-size="10" fill="#111"><text transform="translate(401.2,212.8) rotate(-90)">State overlap 1</text><text transform="translate(401.2,137.5) rotate(-90)" text-anchor="middle">−</text><text transform="translate(401.2,131.6) rotate(-90)" text-anchor="middle">|</text><text transform="translate(401.2,127.0) rotate(-90)" text-anchor="middle">⟨</text><text transform="translate(401.2,120.8) rotate(-90)" text-anchor="middle" font-style="italic">n</text><text transform="translate(401.2,115.4) rotate(-90)" text-anchor="middle">|</text><text transform="translate(401.2,109.2) rotate(-90)" text-anchor="middle" font-style="italic">D̂</text><text transform="translate(401.2,99.5) rotate(-90)" text-anchor="middle">(<tspan font-style="italic">α</tspan>)</text><text transform="translate(401.2,92.5) rotate(-90)" text-anchor="middle">|</text><text transform="translate(401.2,86.7) rotate(-90)" text-anchor="middle" font-style="italic">n</text><text transform="translate(401.2,80.6) rotate(-90)" text-anchor="middle">⟩</text><text transform="translate(401.2,75.1) rotate(-90)" text-anchor="middle">|</text><text transform="translate(396.4,71) rotate(-90)" text-anchor="middle" font-size="7">2</text></g>
</svg>
</body></html>
